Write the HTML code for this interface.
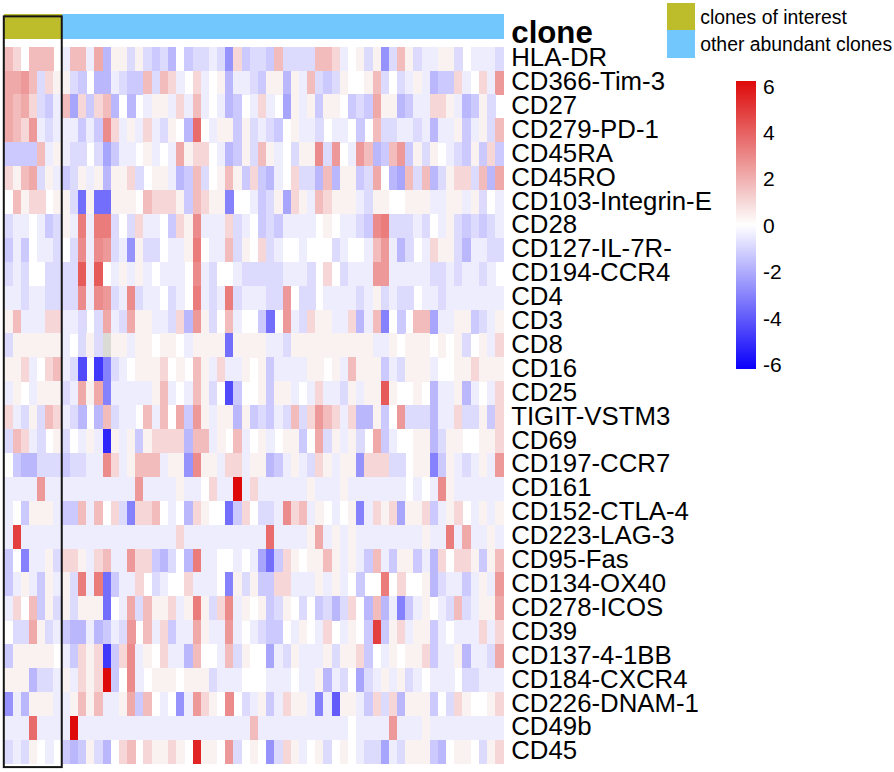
<!DOCTYPE html>
<html><head><meta charset="utf-8"><style>
html,body{margin:0;padding:0;background:#fff;width:894px;height:772px;overflow:hidden;}
body{position:relative;font-family:"Liberation Sans",sans-serif;color:#000;}
.rl{position:absolute;left:511.2px;font-size:25.8px;line-height:30px;white-space:nowrap;}
.tk{position:absolute;left:763px;font-size:21px;line-height:24px;white-space:nowrap;}
.cl{position:absolute;left:511.3px;top:14.6px;font-size:31.2px;font-weight:bold;line-height:36px;}
.lg{position:absolute;left:700.2px;font-size:19.4px;line-height:24px;white-space:nowrap;}
</style></head><body>
<svg width="894" height="772" viewBox="0 0 894 772" style="position:absolute;left:0;top:0" shape-rendering="crispEdges">
<defs><linearGradient id="cb" x1="0" y1="0" x2="0" y2="1"><stop offset="0.0000" stop-color="#de0a0a"/><stop offset="0.0833" stop-color="#e23333"/><stop offset="0.1667" stop-color="#e65c5c"/><stop offset="0.2500" stop-color="#eb8484"/><stop offset="0.3333" stop-color="#f0adad"/><stop offset="0.4167" stop-color="#f6d6d6"/><stop offset="0.5000" stop-color="#ffffff"/><stop offset="0.5833" stop-color="#d6d4fe"/><stop offset="0.6667" stop-color="#adaafd"/><stop offset="0.7500" stop-color="#8480fc"/><stop offset="0.8333" stop-color="#5c55fb"/><stop offset="0.9167" stop-color="#332afb"/><stop offset="1.0000" stop-color="#0a00fa"/></linearGradient></defs>
<rect x="4.40" y="14.4" width="8.48" height="24.4" fill="#bdbd2c"/><rect x="12.58" y="14.4" width="8.48" height="24.4" fill="#bdbd2c"/><rect x="20.76" y="14.4" width="8.48" height="24.4" fill="#bdbd2c"/><rect x="28.94" y="14.4" width="8.48" height="24.4" fill="#bdbd2c"/><rect x="37.12" y="14.4" width="8.48" height="24.4" fill="#bdbd2c"/><rect x="45.30" y="14.4" width="8.48" height="24.4" fill="#bdbd2c"/><rect x="53.48" y="14.4" width="8.48" height="24.4" fill="#bdbd2c"/><rect x="61.66" y="14.4" width="8.48" height="24.4" fill="#72c7fc"/><rect x="69.84" y="14.4" width="8.48" height="24.4" fill="#72c7fc"/><rect x="78.02" y="14.4" width="8.48" height="24.4" fill="#72c7fc"/><rect x="86.20" y="14.4" width="8.48" height="24.4" fill="#72c7fc"/><rect x="94.38" y="14.4" width="8.48" height="24.4" fill="#72c7fc"/><rect x="102.56" y="14.4" width="8.48" height="24.4" fill="#72c7fc"/><rect x="110.74" y="14.4" width="8.48" height="24.4" fill="#72c7fc"/><rect x="118.92" y="14.4" width="8.48" height="24.4" fill="#72c7fc"/><rect x="127.10" y="14.4" width="8.48" height="24.4" fill="#72c7fc"/><rect x="135.28" y="14.4" width="8.48" height="24.4" fill="#72c7fc"/><rect x="143.46" y="14.4" width="8.48" height="24.4" fill="#72c7fc"/><rect x="151.64" y="14.4" width="8.48" height="24.4" fill="#72c7fc"/><rect x="159.82" y="14.4" width="8.48" height="24.4" fill="#72c7fc"/><rect x="168.00" y="14.4" width="8.48" height="24.4" fill="#72c7fc"/><rect x="176.18" y="14.4" width="8.48" height="24.4" fill="#72c7fc"/><rect x="184.36" y="14.4" width="8.48" height="24.4" fill="#72c7fc"/><rect x="192.54" y="14.4" width="8.48" height="24.4" fill="#72c7fc"/><rect x="200.72" y="14.4" width="8.48" height="24.4" fill="#72c7fc"/><rect x="208.90" y="14.4" width="8.48" height="24.4" fill="#72c7fc"/><rect x="217.08" y="14.4" width="8.48" height="24.4" fill="#72c7fc"/><rect x="225.26" y="14.4" width="8.48" height="24.4" fill="#72c7fc"/><rect x="233.44" y="14.4" width="8.48" height="24.4" fill="#72c7fc"/><rect x="241.62" y="14.4" width="8.48" height="24.4" fill="#72c7fc"/><rect x="249.80" y="14.4" width="8.48" height="24.4" fill="#72c7fc"/><rect x="257.98" y="14.4" width="8.48" height="24.4" fill="#72c7fc"/><rect x="266.16" y="14.4" width="8.48" height="24.4" fill="#72c7fc"/><rect x="274.34" y="14.4" width="8.48" height="24.4" fill="#72c7fc"/><rect x="282.52" y="14.4" width="8.48" height="24.4" fill="#72c7fc"/><rect x="290.70" y="14.4" width="8.48" height="24.4" fill="#72c7fc"/><rect x="298.88" y="14.4" width="8.48" height="24.4" fill="#72c7fc"/><rect x="307.06" y="14.4" width="8.48" height="24.4" fill="#72c7fc"/><rect x="315.24" y="14.4" width="8.48" height="24.4" fill="#72c7fc"/><rect x="323.42" y="14.4" width="8.48" height="24.4" fill="#72c7fc"/><rect x="331.60" y="14.4" width="8.48" height="24.4" fill="#72c7fc"/><rect x="339.78" y="14.4" width="8.48" height="24.4" fill="#72c7fc"/><rect x="347.96" y="14.4" width="8.48" height="24.4" fill="#72c7fc"/><rect x="356.14" y="14.4" width="8.48" height="24.4" fill="#72c7fc"/><rect x="364.32" y="14.4" width="8.48" height="24.4" fill="#72c7fc"/><rect x="372.50" y="14.4" width="8.48" height="24.4" fill="#72c7fc"/><rect x="380.68" y="14.4" width="8.48" height="24.4" fill="#72c7fc"/><rect x="388.86" y="14.4" width="8.48" height="24.4" fill="#72c7fc"/><rect x="397.04" y="14.4" width="8.48" height="24.4" fill="#72c7fc"/><rect x="405.22" y="14.4" width="8.48" height="24.4" fill="#72c7fc"/><rect x="413.40" y="14.4" width="8.48" height="24.4" fill="#72c7fc"/><rect x="421.58" y="14.4" width="8.48" height="24.4" fill="#72c7fc"/><rect x="429.76" y="14.4" width="8.48" height="24.4" fill="#72c7fc"/><rect x="437.94" y="14.4" width="8.48" height="24.4" fill="#72c7fc"/><rect x="446.12" y="14.4" width="8.48" height="24.4" fill="#72c7fc"/><rect x="454.30" y="14.4" width="8.48" height="24.4" fill="#72c7fc"/><rect x="462.48" y="14.4" width="8.48" height="24.4" fill="#72c7fc"/><rect x="470.66" y="14.4" width="8.48" height="24.4" fill="#72c7fc"/><rect x="478.84" y="14.4" width="8.48" height="24.4" fill="#72c7fc"/><rect x="487.02" y="14.4" width="8.48" height="24.4" fill="#72c7fc"/><rect x="495.20" y="14.4" width="8.48" height="24.4" fill="#72c7fc"/><rect x="4.40" y="46.60" width="8.48" height="24.20" fill="#f2bcbc"/><rect x="12.58" y="46.60" width="8.48" height="24.20" fill="#f6d6d6"/><rect x="28.94" y="46.60" width="8.48" height="24.20" fill="#f2bcbc"/><rect x="37.12" y="46.60" width="8.48" height="24.20" fill="#f2bcbc"/><rect x="45.30" y="46.60" width="8.48" height="24.20" fill="#f2bcbc"/><rect x="61.66" y="46.60" width="8.48" height="24.20" fill="#eeedfe"/><rect x="69.84" y="46.60" width="8.48" height="24.20" fill="#f2bcbc"/><rect x="78.02" y="46.60" width="8.48" height="24.20" fill="#f2bcbc"/><rect x="86.20" y="46.60" width="8.48" height="24.20" fill="#eeedfe"/><rect x="94.38" y="46.60" width="8.48" height="24.20" fill="#efa9a9"/><rect x="102.56" y="46.60" width="8.48" height="24.20" fill="#bab7fd"/><rect x="110.74" y="46.60" width="8.48" height="24.20" fill="#faf1f1"/><rect x="118.92" y="46.60" width="8.48" height="24.20" fill="#faf1f1"/><rect x="127.10" y="46.60" width="8.48" height="24.20" fill="#dcdbfe"/><rect x="135.28" y="46.60" width="8.48" height="24.20" fill="#faf1f1"/><rect x="143.46" y="46.60" width="8.48" height="24.20" fill="#dcdbfe"/><rect x="151.64" y="46.60" width="8.48" height="24.20" fill="#cbc9fd"/><rect x="159.82" y="46.60" width="8.48" height="24.20" fill="#dcdbfe"/><rect x="168.00" y="46.60" width="8.48" height="24.20" fill="#bab7fd"/><rect x="184.36" y="46.60" width="8.48" height="24.20" fill="#cbc9fd"/><rect x="192.54" y="46.60" width="8.48" height="24.20" fill="#dcdbfe"/><rect x="200.72" y="46.60" width="8.48" height="24.20" fill="#dcdbfe"/><rect x="208.90" y="46.60" width="8.48" height="24.20" fill="#eeedfe"/><rect x="217.08" y="46.60" width="8.48" height="24.20" fill="#dcdbfe"/><rect x="225.26" y="46.60" width="8.48" height="24.20" fill="#9793fc"/><rect x="233.44" y="46.60" width="8.48" height="24.20" fill="#f6d6d6"/><rect x="241.62" y="46.60" width="8.48" height="24.20" fill="#cbc9fd"/><rect x="249.80" y="46.60" width="8.48" height="24.20" fill="#dcdbfe"/><rect x="257.98" y="46.60" width="8.48" height="24.20" fill="#dcdbfe"/><rect x="266.16" y="46.60" width="8.48" height="24.20" fill="#cbc9fd"/><rect x="274.34" y="46.60" width="8.48" height="24.20" fill="#f2bcbc"/><rect x="282.52" y="46.60" width="8.48" height="24.20" fill="#dcdbfe"/><rect x="290.70" y="46.60" width="8.48" height="24.20" fill="#dcdbfe"/><rect x="298.88" y="46.60" width="8.48" height="24.20" fill="#dcdbfe"/><rect x="307.06" y="46.60" width="8.48" height="24.20" fill="#dcdbfe"/><rect x="315.24" y="46.60" width="8.48" height="24.20" fill="#f2bcbc"/><rect x="323.42" y="46.60" width="8.48" height="24.20" fill="#f2bcbc"/><rect x="331.60" y="46.60" width="8.48" height="24.20" fill="#f6d6d6"/><rect x="339.78" y="46.60" width="8.48" height="24.20" fill="#eeedfe"/><rect x="356.14" y="46.60" width="8.48" height="24.20" fill="#faf1f1"/><rect x="364.32" y="46.60" width="8.48" height="24.20" fill="#dcdbfe"/><rect x="372.50" y="46.60" width="8.48" height="24.20" fill="#faf1f1"/><rect x="380.68" y="46.60" width="8.48" height="24.20" fill="#9793fc"/><rect x="388.86" y="46.60" width="8.48" height="24.20" fill="#dcdbfe"/><rect x="397.04" y="46.60" width="8.48" height="24.20" fill="#f2bcbc"/><rect x="405.22" y="46.60" width="8.48" height="24.20" fill="#faf1f1"/><rect x="413.40" y="46.60" width="8.48" height="24.20" fill="#dcdbfe"/><rect x="421.58" y="46.60" width="8.48" height="24.20" fill="#eeedfe"/><rect x="429.76" y="46.60" width="8.48" height="24.20" fill="#eeedfe"/><rect x="437.94" y="46.60" width="8.48" height="24.20" fill="#faf1f1"/><rect x="446.12" y="46.60" width="8.48" height="24.20" fill="#faf1f1"/><rect x="454.30" y="46.60" width="8.48" height="24.20" fill="#dcdbfe"/><rect x="470.66" y="46.60" width="8.48" height="24.20" fill="#eeedfe"/><rect x="478.84" y="46.60" width="8.48" height="24.20" fill="#eeedfe"/><rect x="487.02" y="46.60" width="8.48" height="24.20" fill="#eeedfe"/><rect x="495.20" y="46.60" width="8.48" height="24.20" fill="#dcdbfe"/><rect x="4.40" y="70.50" width="8.48" height="24.20" fill="#efa9a9"/><rect x="12.58" y="70.50" width="8.48" height="24.20" fill="#efa9a9"/><rect x="20.76" y="70.50" width="8.48" height="24.20" fill="#ed9999"/><rect x="28.94" y="70.50" width="8.48" height="24.20" fill="#f2bcbc"/><rect x="37.12" y="70.50" width="8.48" height="24.20" fill="#dcdbfe"/><rect x="45.30" y="70.50" width="8.48" height="24.20" fill="#f6d6d6"/><rect x="53.48" y="70.50" width="8.48" height="24.20" fill="#faf1f1"/><rect x="61.66" y="70.50" width="8.48" height="24.20" fill="#faf1f1"/><rect x="69.84" y="70.50" width="8.48" height="24.20" fill="#dcdbfe"/><rect x="78.02" y="70.50" width="8.48" height="24.20" fill="#cbc9fd"/><rect x="94.38" y="70.50" width="8.48" height="24.20" fill="#bab7fd"/><rect x="102.56" y="70.50" width="8.48" height="24.20" fill="#bab7fd"/><rect x="110.74" y="70.50" width="8.48" height="24.20" fill="#eeedfe"/><rect x="118.92" y="70.50" width="8.48" height="24.20" fill="#dcdbfe"/><rect x="127.10" y="70.50" width="8.48" height="24.20" fill="#cbc9fd"/><rect x="135.28" y="70.50" width="8.48" height="24.20" fill="#cbc9fd"/><rect x="143.46" y="70.50" width="8.48" height="24.20" fill="#f2bcbc"/><rect x="151.64" y="70.50" width="8.48" height="24.20" fill="#dcdbfe"/><rect x="159.82" y="70.50" width="8.48" height="24.20" fill="#f2bcbc"/><rect x="168.00" y="70.50" width="8.48" height="24.20" fill="#f6d6d6"/><rect x="176.18" y="70.50" width="8.48" height="24.20" fill="#eeedfe"/><rect x="192.54" y="70.50" width="8.48" height="24.20" fill="#f6d6d6"/><rect x="200.72" y="70.50" width="8.48" height="24.20" fill="#eeedfe"/><rect x="217.08" y="70.50" width="8.48" height="24.20" fill="#faf1f1"/><rect x="225.26" y="70.50" width="8.48" height="24.20" fill="#bab7fd"/><rect x="233.44" y="70.50" width="8.48" height="24.20" fill="#eeedfe"/><rect x="241.62" y="70.50" width="8.48" height="24.20" fill="#eeedfe"/><rect x="249.80" y="70.50" width="8.48" height="24.20" fill="#dcdbfe"/><rect x="257.98" y="70.50" width="8.48" height="24.20" fill="#cbc9fd"/><rect x="266.16" y="70.50" width="8.48" height="24.20" fill="#faf1f1"/><rect x="274.34" y="70.50" width="8.48" height="24.20" fill="#faf1f1"/><rect x="282.52" y="70.50" width="8.48" height="24.20" fill="#bab7fd"/><rect x="290.70" y="70.50" width="8.48" height="24.20" fill="#faf1f1"/><rect x="298.88" y="70.50" width="8.48" height="24.20" fill="#eeedfe"/><rect x="307.06" y="70.50" width="8.48" height="24.20" fill="#f2bcbc"/><rect x="315.24" y="70.50" width="8.48" height="24.20" fill="#dcdbfe"/><rect x="323.42" y="70.50" width="8.48" height="24.20" fill="#cbc9fd"/><rect x="331.60" y="70.50" width="8.48" height="24.20" fill="#dcdbfe"/><rect x="339.78" y="70.50" width="8.48" height="24.20" fill="#faf1f1"/><rect x="364.32" y="70.50" width="8.48" height="24.20" fill="#faf1f1"/><rect x="372.50" y="70.50" width="8.48" height="24.20" fill="#f2bcbc"/><rect x="380.68" y="70.50" width="8.48" height="24.20" fill="#dcdbfe"/><rect x="397.04" y="70.50" width="8.48" height="24.20" fill="#dcdbfe"/><rect x="405.22" y="70.50" width="8.48" height="24.20" fill="#eeedfe"/><rect x="413.40" y="70.50" width="8.48" height="24.20" fill="#faf1f1"/><rect x="421.58" y="70.50" width="8.48" height="24.20" fill="#eeedfe"/><rect x="429.76" y="70.50" width="8.48" height="24.20" fill="#bab7fd"/><rect x="437.94" y="70.50" width="8.48" height="24.20" fill="#cbc9fd"/><rect x="446.12" y="70.50" width="8.48" height="24.20" fill="#cbc9fd"/><rect x="454.30" y="70.50" width="8.48" height="24.20" fill="#f6d6d6"/><rect x="462.48" y="70.50" width="8.48" height="24.20" fill="#eeedfe"/><rect x="478.84" y="70.50" width="8.48" height="24.20" fill="#f6d6d6"/><rect x="487.02" y="70.50" width="8.48" height="24.20" fill="#eeedfe"/><rect x="495.20" y="70.50" width="8.48" height="24.20" fill="#ed9999"/><rect x="4.40" y="94.40" width="8.48" height="24.20" fill="#efa9a9"/><rect x="12.58" y="94.40" width="8.48" height="24.20" fill="#f2bcbc"/><rect x="20.76" y="94.40" width="8.48" height="24.20" fill="#efa9a9"/><rect x="28.94" y="94.40" width="8.48" height="24.20" fill="#f6d6d6"/><rect x="37.12" y="94.40" width="8.48" height="24.20" fill="#dcdbfe"/><rect x="45.30" y="94.40" width="8.48" height="24.20" fill="#cbc9fd"/><rect x="53.48" y="94.40" width="8.48" height="24.20" fill="#eeedfe"/><rect x="61.66" y="94.40" width="8.48" height="24.20" fill="#f2bcbc"/><rect x="69.84" y="94.40" width="8.48" height="24.20" fill="#a8a5fd"/><rect x="78.02" y="94.40" width="8.48" height="24.20" fill="#f6d6d6"/><rect x="86.20" y="94.40" width="8.48" height="24.20" fill="#cbc9fd"/><rect x="94.38" y="94.40" width="8.48" height="24.20" fill="#f6d6d6"/><rect x="102.56" y="94.40" width="8.48" height="24.20" fill="#f2bcbc"/><rect x="110.74" y="94.40" width="8.48" height="24.20" fill="#bab7fd"/><rect x="127.10" y="94.40" width="8.48" height="24.20" fill="#bab7fd"/><rect x="143.46" y="94.40" width="8.48" height="24.20" fill="#eeedfe"/><rect x="151.64" y="94.40" width="8.48" height="24.20" fill="#faf1f1"/><rect x="159.82" y="94.40" width="8.48" height="24.20" fill="#faf1f1"/><rect x="168.00" y="94.40" width="8.48" height="24.20" fill="#eeedfe"/><rect x="176.18" y="94.40" width="8.48" height="24.20" fill="#f6d6d6"/><rect x="184.36" y="94.40" width="8.48" height="24.20" fill="#eeedfe"/><rect x="192.54" y="94.40" width="8.48" height="24.20" fill="#f2bcbc"/><rect x="200.72" y="94.40" width="8.48" height="24.20" fill="#eeedfe"/><rect x="217.08" y="94.40" width="8.48" height="24.20" fill="#eeedfe"/><rect x="225.26" y="94.40" width="8.48" height="24.20" fill="#bab7fd"/><rect x="233.44" y="94.40" width="8.48" height="24.20" fill="#cbc9fd"/><rect x="249.80" y="94.40" width="8.48" height="24.20" fill="#eeedfe"/><rect x="257.98" y="94.40" width="8.48" height="24.20" fill="#f6d6d6"/><rect x="266.16" y="94.40" width="8.48" height="24.20" fill="#eeedfe"/><rect x="282.52" y="94.40" width="8.48" height="24.20" fill="#a8a5fd"/><rect x="290.70" y="94.40" width="8.48" height="24.20" fill="#faf1f1"/><rect x="298.88" y="94.40" width="8.48" height="24.20" fill="#eeedfe"/><rect x="307.06" y="94.40" width="8.48" height="24.20" fill="#faf1f1"/><rect x="315.24" y="94.40" width="8.48" height="24.20" fill="#cbc9fd"/><rect x="323.42" y="94.40" width="8.48" height="24.20" fill="#faf1f1"/><rect x="331.60" y="94.40" width="8.48" height="24.20" fill="#faf1f1"/><rect x="347.96" y="94.40" width="8.48" height="24.20" fill="#cbc9fd"/><rect x="356.14" y="94.40" width="8.48" height="24.20" fill="#dcdbfe"/><rect x="364.32" y="94.40" width="8.48" height="24.20" fill="#cbc9fd"/><rect x="372.50" y="94.40" width="8.48" height="24.20" fill="#efa9a9"/><rect x="380.68" y="94.40" width="8.48" height="24.20" fill="#faf1f1"/><rect x="388.86" y="94.40" width="8.48" height="24.20" fill="#faf1f1"/><rect x="397.04" y="94.40" width="8.48" height="24.20" fill="#bab7fd"/><rect x="405.22" y="94.40" width="8.48" height="24.20" fill="#cbc9fd"/><rect x="413.40" y="94.40" width="8.48" height="24.20" fill="#eeedfe"/><rect x="421.58" y="94.40" width="8.48" height="24.20" fill="#eeedfe"/><rect x="429.76" y="94.40" width="8.48" height="24.20" fill="#f6d6d6"/><rect x="437.94" y="94.40" width="8.48" height="24.20" fill="#f6d6d6"/><rect x="446.12" y="94.40" width="8.48" height="24.20" fill="#faf1f1"/><rect x="454.30" y="94.40" width="8.48" height="24.20" fill="#eeedfe"/><rect x="462.48" y="94.40" width="8.48" height="24.20" fill="#bab7fd"/><rect x="470.66" y="94.40" width="8.48" height="24.20" fill="#cbc9fd"/><rect x="478.84" y="94.40" width="8.48" height="24.20" fill="#faf1f1"/><rect x="487.02" y="94.40" width="8.48" height="24.20" fill="#dcdbfe"/><rect x="4.40" y="118.30" width="8.48" height="24.20" fill="#efa9a9"/><rect x="12.58" y="118.30" width="8.48" height="24.20" fill="#f2bcbc"/><rect x="20.76" y="118.30" width="8.48" height="24.20" fill="#f6d6d6"/><rect x="28.94" y="118.30" width="8.48" height="24.20" fill="#ed9999"/><rect x="37.12" y="118.30" width="8.48" height="24.20" fill="#eeedfe"/><rect x="45.30" y="118.30" width="8.48" height="24.20" fill="#dcdbfe"/><rect x="53.48" y="118.30" width="8.48" height="24.20" fill="#eeedfe"/><rect x="61.66" y="118.30" width="8.48" height="24.20" fill="#eeedfe"/><rect x="69.84" y="118.30" width="8.48" height="24.20" fill="#eeedfe"/><rect x="78.02" y="118.30" width="8.48" height="24.20" fill="#cbc9fd"/><rect x="86.20" y="118.30" width="8.48" height="24.20" fill="#eeedfe"/><rect x="94.38" y="118.30" width="8.48" height="24.20" fill="#cbc9fd"/><rect x="102.56" y="118.30" width="8.48" height="24.20" fill="#eb8b8b"/><rect x="110.74" y="118.30" width="8.48" height="24.20" fill="#f6d6d6"/><rect x="118.92" y="118.30" width="8.48" height="24.20" fill="#eeedfe"/><rect x="127.10" y="118.30" width="8.48" height="24.20" fill="#faf1f1"/><rect x="135.28" y="118.30" width="8.48" height="24.20" fill="#eeedfe"/><rect x="143.46" y="118.30" width="8.48" height="24.20" fill="#f6d6d6"/><rect x="151.64" y="118.30" width="8.48" height="24.20" fill="#eeedfe"/><rect x="159.82" y="118.30" width="8.48" height="24.20" fill="#dcdbfe"/><rect x="168.00" y="118.30" width="8.48" height="24.20" fill="#faf1f1"/><rect x="184.36" y="118.30" width="8.48" height="24.20" fill="#bab7fd"/><rect x="192.54" y="118.30" width="8.48" height="24.20" fill="#e86c6c"/><rect x="208.90" y="118.30" width="8.48" height="24.20" fill="#eeedfe"/><rect x="217.08" y="118.30" width="8.48" height="24.20" fill="#faf1f1"/><rect x="225.26" y="118.30" width="8.48" height="24.20" fill="#faf1f1"/><rect x="233.44" y="118.30" width="8.48" height="24.20" fill="#cbc9fd"/><rect x="241.62" y="118.30" width="8.48" height="24.20" fill="#faf1f1"/><rect x="249.80" y="118.30" width="8.48" height="24.20" fill="#dcdbfe"/><rect x="257.98" y="118.30" width="8.48" height="24.20" fill="#eeedfe"/><rect x="266.16" y="118.30" width="8.48" height="24.20" fill="#dcdbfe"/><rect x="274.34" y="118.30" width="8.48" height="24.20" fill="#cbc9fd"/><rect x="290.70" y="118.30" width="8.48" height="24.20" fill="#faf1f1"/><rect x="298.88" y="118.30" width="8.48" height="24.20" fill="#eeedfe"/><rect x="307.06" y="118.30" width="8.48" height="24.20" fill="#eeedfe"/><rect x="315.24" y="118.30" width="8.48" height="24.20" fill="#dcdbfe"/><rect x="331.60" y="118.30" width="8.48" height="24.20" fill="#eeedfe"/><rect x="339.78" y="118.30" width="8.48" height="24.20" fill="#eeedfe"/><rect x="356.14" y="118.30" width="8.48" height="24.20" fill="#cbc9fd"/><rect x="372.50" y="118.30" width="8.48" height="24.20" fill="#f2bcbc"/><rect x="380.68" y="118.30" width="8.48" height="24.20" fill="#dcdbfe"/><rect x="388.86" y="118.30" width="8.48" height="24.20" fill="#dcdbfe"/><rect x="397.04" y="118.30" width="8.48" height="24.20" fill="#eeedfe"/><rect x="405.22" y="118.30" width="8.48" height="24.20" fill="#eeedfe"/><rect x="413.40" y="118.30" width="8.48" height="24.20" fill="#dcdbfe"/><rect x="421.58" y="118.30" width="8.48" height="24.20" fill="#eeedfe"/><rect x="429.76" y="118.30" width="8.48" height="24.20" fill="#bab7fd"/><rect x="437.94" y="118.30" width="8.48" height="24.20" fill="#eeedfe"/><rect x="446.12" y="118.30" width="8.48" height="24.20" fill="#eeedfe"/><rect x="454.30" y="118.30" width="8.48" height="24.20" fill="#faf1f1"/><rect x="462.48" y="118.30" width="8.48" height="24.20" fill="#cbc9fd"/><rect x="470.66" y="118.30" width="8.48" height="24.20" fill="#eeedfe"/><rect x="478.84" y="118.30" width="8.48" height="24.20" fill="#faf1f1"/><rect x="487.02" y="118.30" width="8.48" height="24.20" fill="#dcdbfe"/><rect x="495.20" y="118.30" width="8.48" height="24.20" fill="#f2bcbc"/><rect x="4.40" y="142.20" width="8.48" height="24.20" fill="#cbc9fd"/><rect x="12.58" y="142.20" width="8.48" height="24.20" fill="#cbc9fd"/><rect x="20.76" y="142.20" width="8.48" height="24.20" fill="#cbc9fd"/><rect x="28.94" y="142.20" width="8.48" height="24.20" fill="#cbc9fd"/><rect x="37.12" y="142.20" width="8.48" height="24.20" fill="#f2bcbc"/><rect x="45.30" y="142.20" width="8.48" height="24.20" fill="#eeedfe"/><rect x="53.48" y="142.20" width="8.48" height="24.20" fill="#faf1f1"/><rect x="61.66" y="142.20" width="8.48" height="24.20" fill="#eeedfe"/><rect x="69.84" y="142.20" width="8.48" height="24.20" fill="#dcdbfe"/><rect x="78.02" y="142.20" width="8.48" height="24.20" fill="#dcdbfe"/><rect x="94.38" y="142.20" width="8.48" height="24.20" fill="#dcdbfe"/><rect x="102.56" y="142.20" width="8.48" height="24.20" fill="#a8a5fd"/><rect x="110.74" y="142.20" width="8.48" height="24.20" fill="#cbc9fd"/><rect x="118.92" y="142.20" width="8.48" height="24.20" fill="#eeedfe"/><rect x="127.10" y="142.20" width="8.48" height="24.20" fill="#eeedfe"/><rect x="143.46" y="142.20" width="8.48" height="24.20" fill="#faf1f1"/><rect x="151.64" y="142.20" width="8.48" height="24.20" fill="#eeedfe"/><rect x="168.00" y="142.20" width="8.48" height="24.20" fill="#eeedfe"/><rect x="176.18" y="142.20" width="8.48" height="24.20" fill="#efa9a9"/><rect x="184.36" y="142.20" width="8.48" height="24.20" fill="#faf1f1"/><rect x="192.54" y="142.20" width="8.48" height="24.20" fill="#f6d6d6"/><rect x="200.72" y="142.20" width="8.48" height="24.20" fill="#f6d6d6"/><rect x="217.08" y="142.20" width="8.48" height="24.20" fill="#eeedfe"/><rect x="225.26" y="142.20" width="8.48" height="24.20" fill="#bab7fd"/><rect x="233.44" y="142.20" width="8.48" height="24.20" fill="#cbc9fd"/><rect x="241.62" y="142.20" width="8.48" height="24.20" fill="#faf1f1"/><rect x="249.80" y="142.20" width="8.48" height="24.20" fill="#dcdbfe"/><rect x="257.98" y="142.20" width="8.48" height="24.20" fill="#f2bcbc"/><rect x="266.16" y="142.20" width="8.48" height="24.20" fill="#faf1f1"/><rect x="274.34" y="142.20" width="8.48" height="24.20" fill="#eeedfe"/><rect x="290.70" y="142.20" width="8.48" height="24.20" fill="#dcdbfe"/><rect x="298.88" y="142.20" width="8.48" height="24.20" fill="#faf1f1"/><rect x="307.06" y="142.20" width="8.48" height="24.20" fill="#faf1f1"/><rect x="315.24" y="142.20" width="8.48" height="24.20" fill="#eb8b8b"/><rect x="323.42" y="142.20" width="8.48" height="24.20" fill="#dcdbfe"/><rect x="331.60" y="142.20" width="8.48" height="24.20" fill="#ed9999"/><rect x="347.96" y="142.20" width="8.48" height="24.20" fill="#eeedfe"/><rect x="356.14" y="142.20" width="8.48" height="24.20" fill="#ed9999"/><rect x="364.32" y="142.20" width="8.48" height="24.20" fill="#f2bcbc"/><rect x="372.50" y="142.20" width="8.48" height="24.20" fill="#bab7fd"/><rect x="380.68" y="142.20" width="8.48" height="24.20" fill="#cbc9fd"/><rect x="388.86" y="142.20" width="8.48" height="24.20" fill="#f2bcbc"/><rect x="397.04" y="142.20" width="8.48" height="24.20" fill="#ed9999"/><rect x="405.22" y="142.20" width="8.48" height="24.20" fill="#cbc9fd"/><rect x="413.40" y="142.20" width="8.48" height="24.20" fill="#faf1f1"/><rect x="421.58" y="142.20" width="8.48" height="24.20" fill="#dcdbfe"/><rect x="429.76" y="142.20" width="8.48" height="24.20" fill="#faf1f1"/><rect x="446.12" y="142.20" width="8.48" height="24.20" fill="#eeedfe"/><rect x="454.30" y="142.20" width="8.48" height="24.20" fill="#dcdbfe"/><rect x="462.48" y="142.20" width="8.48" height="24.20" fill="#cbc9fd"/><rect x="470.66" y="142.20" width="8.48" height="24.20" fill="#faf1f1"/><rect x="478.84" y="142.20" width="8.48" height="24.20" fill="#cbc9fd"/><rect x="487.02" y="142.20" width="8.48" height="24.20" fill="#f6d6d6"/><rect x="495.20" y="142.20" width="8.48" height="24.20" fill="#cbc9fd"/><rect x="4.40" y="166.10" width="8.48" height="24.20" fill="#f6d6d6"/><rect x="12.58" y="166.10" width="8.48" height="24.20" fill="#faf1f1"/><rect x="20.76" y="166.10" width="8.48" height="24.20" fill="#f2bcbc"/><rect x="28.94" y="166.10" width="8.48" height="24.20" fill="#efa9a9"/><rect x="37.12" y="166.10" width="8.48" height="24.20" fill="#dcdbfe"/><rect x="45.30" y="166.10" width="8.48" height="24.20" fill="#faf1f1"/><rect x="53.48" y="166.10" width="8.48" height="24.20" fill="#eeedfe"/><rect x="61.66" y="166.10" width="8.48" height="24.20" fill="#cbc9fd"/><rect x="69.84" y="166.10" width="8.48" height="24.20" fill="#dcdbfe"/><rect x="78.02" y="166.10" width="8.48" height="24.20" fill="#faf1f1"/><rect x="86.20" y="166.10" width="8.48" height="24.20" fill="#eeedfe"/><rect x="94.38" y="166.10" width="8.48" height="24.20" fill="#faf1f1"/><rect x="102.56" y="166.10" width="8.48" height="24.20" fill="#bab7fd"/><rect x="110.74" y="166.10" width="8.48" height="24.20" fill="#faf1f1"/><rect x="118.92" y="166.10" width="8.48" height="24.20" fill="#faf1f1"/><rect x="127.10" y="166.10" width="8.48" height="24.20" fill="#f6d6d6"/><rect x="135.28" y="166.10" width="8.48" height="24.20" fill="#dcdbfe"/><rect x="151.64" y="166.10" width="8.48" height="24.20" fill="#faf1f1"/><rect x="159.82" y="166.10" width="8.48" height="24.20" fill="#faf1f1"/><rect x="168.00" y="166.10" width="8.48" height="24.20" fill="#eeedfe"/><rect x="176.18" y="166.10" width="8.48" height="24.20" fill="#bab7fd"/><rect x="184.36" y="166.10" width="8.48" height="24.20" fill="#cbc9fd"/><rect x="192.54" y="166.10" width="8.48" height="24.20" fill="#f2bcbc"/><rect x="200.72" y="166.10" width="8.48" height="24.20" fill="#dcdbfe"/><rect x="217.08" y="166.10" width="8.48" height="24.20" fill="#faf1f1"/><rect x="225.26" y="166.10" width="8.48" height="24.20" fill="#f2bcbc"/><rect x="233.44" y="166.10" width="8.48" height="24.20" fill="#faf1f1"/><rect x="241.62" y="166.10" width="8.48" height="24.20" fill="#cbc9fd"/><rect x="249.80" y="166.10" width="8.48" height="24.20" fill="#f6d6d6"/><rect x="257.98" y="166.10" width="8.48" height="24.20" fill="#cbc9fd"/><rect x="266.16" y="166.10" width="8.48" height="24.20" fill="#bab7fd"/><rect x="274.34" y="166.10" width="8.48" height="24.20" fill="#eeedfe"/><rect x="290.70" y="166.10" width="8.48" height="24.20" fill="#f6d6d6"/><rect x="298.88" y="166.10" width="8.48" height="24.20" fill="#dcdbfe"/><rect x="307.06" y="166.10" width="8.48" height="24.20" fill="#dcdbfe"/><rect x="315.24" y="166.10" width="8.48" height="24.20" fill="#bab7fd"/><rect x="323.42" y="166.10" width="8.48" height="24.20" fill="#f2bcbc"/><rect x="331.60" y="166.10" width="8.48" height="24.20" fill="#bab7fd"/><rect x="339.78" y="166.10" width="8.48" height="24.20" fill="#faf1f1"/><rect x="347.96" y="166.10" width="8.48" height="24.20" fill="#faf1f1"/><rect x="356.14" y="166.10" width="8.48" height="24.20" fill="#cbc9fd"/><rect x="364.32" y="166.10" width="8.48" height="24.20" fill="#dcdbfe"/><rect x="372.50" y="166.10" width="8.48" height="24.20" fill="#efa9a9"/><rect x="388.86" y="166.10" width="8.48" height="24.20" fill="#bab7fd"/><rect x="397.04" y="166.10" width="8.48" height="24.20" fill="#a8a5fd"/><rect x="405.22" y="166.10" width="8.48" height="24.20" fill="#f2bcbc"/><rect x="413.40" y="166.10" width="8.48" height="24.20" fill="#dcdbfe"/><rect x="421.58" y="166.10" width="8.48" height="24.20" fill="#f2bcbc"/><rect x="429.76" y="166.10" width="8.48" height="24.20" fill="#bab7fd"/><rect x="437.94" y="166.10" width="8.48" height="24.20" fill="#dcdbfe"/><rect x="446.12" y="166.10" width="8.48" height="24.20" fill="#faf1f1"/><rect x="454.30" y="166.10" width="8.48" height="24.20" fill="#f6d6d6"/><rect x="462.48" y="166.10" width="8.48" height="24.20" fill="#f6d6d6"/><rect x="470.66" y="166.10" width="8.48" height="24.20" fill="#dcdbfe"/><rect x="478.84" y="166.10" width="8.48" height="24.20" fill="#f2bcbc"/><rect x="487.02" y="166.10" width="8.48" height="24.20" fill="#bab7fd"/><rect x="495.20" y="166.10" width="8.48" height="24.20" fill="#efa9a9"/><rect x="12.58" y="190.00" width="8.48" height="24.20" fill="#f2bcbc"/><rect x="20.76" y="190.00" width="8.48" height="24.20" fill="#faf1f1"/><rect x="28.94" y="190.00" width="8.48" height="24.20" fill="#f6d6d6"/><rect x="37.12" y="190.00" width="8.48" height="24.20" fill="#f6d6d6"/><rect x="53.48" y="190.00" width="8.48" height="24.20" fill="#faf1f1"/><rect x="61.66" y="190.00" width="8.48" height="24.20" fill="#faf1f1"/><rect x="69.84" y="190.00" width="8.48" height="24.20" fill="#dcdbfe"/><rect x="78.02" y="190.00" width="8.48" height="24.20" fill="#746efc"/><rect x="86.20" y="190.00" width="8.48" height="24.20" fill="#faf1f1"/><rect x="94.38" y="190.00" width="8.48" height="24.20" fill="#746efc"/><rect x="102.56" y="190.00" width="8.48" height="24.20" fill="#746efc"/><rect x="110.74" y="190.00" width="8.48" height="24.20" fill="#faf1f1"/><rect x="118.92" y="190.00" width="8.48" height="24.20" fill="#faf1f1"/><rect x="127.10" y="190.00" width="8.48" height="24.20" fill="#faf1f1"/><rect x="143.46" y="190.00" width="8.48" height="24.20" fill="#f2bcbc"/><rect x="151.64" y="190.00" width="8.48" height="24.20" fill="#f6d6d6"/><rect x="159.82" y="190.00" width="8.48" height="24.20" fill="#f6d6d6"/><rect x="168.00" y="190.00" width="8.48" height="24.20" fill="#f6d6d6"/><rect x="176.18" y="190.00" width="8.48" height="24.20" fill="#faf1f1"/><rect x="184.36" y="190.00" width="8.48" height="24.20" fill="#cbc9fd"/><rect x="192.54" y="190.00" width="8.48" height="24.20" fill="#f2bcbc"/><rect x="200.72" y="190.00" width="8.48" height="24.20" fill="#f6d6d6"/><rect x="208.90" y="190.00" width="8.48" height="24.20" fill="#faf1f1"/><rect x="217.08" y="190.00" width="8.48" height="24.20" fill="#faf1f1"/><rect x="225.26" y="190.00" width="8.48" height="24.20" fill="#8681fc"/><rect x="249.80" y="190.00" width="8.48" height="24.20" fill="#eeedfe"/><rect x="257.98" y="190.00" width="8.48" height="24.20" fill="#cbc9fd"/><rect x="266.16" y="190.00" width="8.48" height="24.20" fill="#dcdbfe"/><rect x="274.34" y="190.00" width="8.48" height="24.20" fill="#faf1f1"/><rect x="282.52" y="190.00" width="8.48" height="24.20" fill="#a8a5fd"/><rect x="290.70" y="190.00" width="8.48" height="24.20" fill="#f6d6d6"/><rect x="298.88" y="190.00" width="8.48" height="24.20" fill="#faf1f1"/><rect x="307.06" y="190.00" width="8.48" height="24.20" fill="#eeedfe"/><rect x="315.24" y="190.00" width="8.48" height="24.20" fill="#f2bcbc"/><rect x="323.42" y="190.00" width="8.48" height="24.20" fill="#f6d6d6"/><rect x="331.60" y="190.00" width="8.48" height="24.20" fill="#faf1f1"/><rect x="339.78" y="190.00" width="8.48" height="24.20" fill="#faf1f1"/><rect x="347.96" y="190.00" width="8.48" height="24.20" fill="#faf1f1"/><rect x="356.14" y="190.00" width="8.48" height="24.20" fill="#eeedfe"/><rect x="364.32" y="190.00" width="8.48" height="24.20" fill="#dcdbfe"/><rect x="372.50" y="190.00" width="8.48" height="24.20" fill="#faf1f1"/><rect x="380.68" y="190.00" width="8.48" height="24.20" fill="#faf1f1"/><rect x="405.22" y="190.00" width="8.48" height="24.20" fill="#faf1f1"/><rect x="413.40" y="190.00" width="8.48" height="24.20" fill="#faf1f1"/><rect x="421.58" y="190.00" width="8.48" height="24.20" fill="#faf1f1"/><rect x="429.76" y="190.00" width="8.48" height="24.20" fill="#eeedfe"/><rect x="437.94" y="190.00" width="8.48" height="24.20" fill="#eeedfe"/><rect x="446.12" y="190.00" width="8.48" height="24.20" fill="#faf1f1"/><rect x="454.30" y="190.00" width="8.48" height="24.20" fill="#faf1f1"/><rect x="462.48" y="190.00" width="8.48" height="24.20" fill="#eeedfe"/><rect x="470.66" y="190.00" width="8.48" height="24.20" fill="#faf1f1"/><rect x="478.84" y="190.00" width="8.48" height="24.20" fill="#dcdbfe"/><rect x="495.20" y="190.00" width="8.48" height="24.20" fill="#eeedfe"/><rect x="4.40" y="213.90" width="8.48" height="24.20" fill="#dcdbfe"/><rect x="12.58" y="213.90" width="8.48" height="24.20" fill="#eeedfe"/><rect x="20.76" y="213.90" width="8.48" height="24.20" fill="#eeedfe"/><rect x="37.12" y="213.90" width="8.48" height="24.20" fill="#eeedfe"/><rect x="45.30" y="213.90" width="8.48" height="24.20" fill="#cbc9fd"/><rect x="53.48" y="213.90" width="8.48" height="24.20" fill="#dcdbfe"/><rect x="61.66" y="213.90" width="8.48" height="24.20" fill="#faf1f1"/><rect x="69.84" y="213.90" width="8.48" height="24.20" fill="#eeedfe"/><rect x="78.02" y="213.90" width="8.48" height="24.20" fill="#ea7c7c"/><rect x="86.20" y="213.90" width="8.48" height="24.20" fill="#eeedfe"/><rect x="94.38" y="213.90" width="8.48" height="24.20" fill="#ea7c7c"/><rect x="102.56" y="213.90" width="8.48" height="24.20" fill="#ea7c7c"/><rect x="110.74" y="213.90" width="8.48" height="24.20" fill="#dcdbfe"/><rect x="127.10" y="213.90" width="8.48" height="24.20" fill="#dcdbfe"/><rect x="135.28" y="213.90" width="8.48" height="24.20" fill="#f6d6d6"/><rect x="143.46" y="213.90" width="8.48" height="24.20" fill="#eeedfe"/><rect x="151.64" y="213.90" width="8.48" height="24.20" fill="#eeedfe"/><rect x="168.00" y="213.90" width="8.48" height="24.20" fill="#cbc9fd"/><rect x="176.18" y="213.90" width="8.48" height="24.20" fill="#f6d6d6"/><rect x="184.36" y="213.90" width="8.48" height="24.20" fill="#faf1f1"/><rect x="192.54" y="213.90" width="8.48" height="24.20" fill="#eb8b8b"/><rect x="200.72" y="213.90" width="8.48" height="24.20" fill="#eeedfe"/><rect x="208.90" y="213.90" width="8.48" height="24.20" fill="#eeedfe"/><rect x="217.08" y="213.90" width="8.48" height="24.20" fill="#eeedfe"/><rect x="225.26" y="213.90" width="8.48" height="24.20" fill="#f6d6d6"/><rect x="233.44" y="213.90" width="8.48" height="24.20" fill="#dcdbfe"/><rect x="241.62" y="213.90" width="8.48" height="24.20" fill="#eeedfe"/><rect x="257.98" y="213.90" width="8.48" height="24.20" fill="#cbc9fd"/><rect x="266.16" y="213.90" width="8.48" height="24.20" fill="#dcdbfe"/><rect x="274.34" y="213.90" width="8.48" height="24.20" fill="#cbc9fd"/><rect x="282.52" y="213.90" width="8.48" height="24.20" fill="#eeedfe"/><rect x="290.70" y="213.90" width="8.48" height="24.20" fill="#eeedfe"/><rect x="298.88" y="213.90" width="8.48" height="24.20" fill="#eeedfe"/><rect x="307.06" y="213.90" width="8.48" height="24.20" fill="#eeedfe"/><rect x="323.42" y="213.90" width="8.48" height="24.20" fill="#faf1f1"/><rect x="339.78" y="213.90" width="8.48" height="24.20" fill="#eeedfe"/><rect x="347.96" y="213.90" width="8.48" height="24.20" fill="#eeedfe"/><rect x="356.14" y="213.90" width="8.48" height="24.20" fill="#dcdbfe"/><rect x="364.32" y="213.90" width="8.48" height="24.20" fill="#cbc9fd"/><rect x="372.50" y="213.90" width="8.48" height="24.20" fill="#eb8b8b"/><rect x="380.68" y="213.90" width="8.48" height="24.20" fill="#ea7c7c"/><rect x="388.86" y="213.90" width="8.48" height="24.20" fill="#dcdbfe"/><rect x="397.04" y="213.90" width="8.48" height="24.20" fill="#dcdbfe"/><rect x="405.22" y="213.90" width="8.48" height="24.20" fill="#dcdbfe"/><rect x="413.40" y="213.90" width="8.48" height="24.20" fill="#eeedfe"/><rect x="421.58" y="213.90" width="8.48" height="24.20" fill="#dcdbfe"/><rect x="437.94" y="213.90" width="8.48" height="24.20" fill="#eeedfe"/><rect x="446.12" y="213.90" width="8.48" height="24.20" fill="#faf1f1"/><rect x="454.30" y="213.90" width="8.48" height="24.20" fill="#dcdbfe"/><rect x="462.48" y="213.90" width="8.48" height="24.20" fill="#cbc9fd"/><rect x="470.66" y="213.90" width="8.48" height="24.20" fill="#dcdbfe"/><rect x="478.84" y="213.90" width="8.48" height="24.20" fill="#cbc9fd"/><rect x="487.02" y="213.90" width="8.48" height="24.20" fill="#dcdbfe"/><rect x="495.20" y="213.90" width="8.48" height="24.20" fill="#eeedfe"/><rect x="4.40" y="237.80" width="8.48" height="24.20" fill="#cbc9fd"/><rect x="12.58" y="237.80" width="8.48" height="24.20" fill="#eeedfe"/><rect x="20.76" y="237.80" width="8.48" height="24.20" fill="#cbc9fd"/><rect x="37.12" y="237.80" width="8.48" height="24.20" fill="#eeedfe"/><rect x="45.30" y="237.80" width="8.48" height="24.20" fill="#eeedfe"/><rect x="53.48" y="237.80" width="8.48" height="24.20" fill="#dcdbfe"/><rect x="69.84" y="237.80" width="8.48" height="24.20" fill="#dcdbfe"/><rect x="78.02" y="237.80" width="8.48" height="24.20" fill="#eb8b8b"/><rect x="86.20" y="237.80" width="8.48" height="24.20" fill="#eeedfe"/><rect x="94.38" y="237.80" width="8.48" height="24.20" fill="#eb8b8b"/><rect x="102.56" y="237.80" width="8.48" height="24.20" fill="#ed9999"/><rect x="110.74" y="237.80" width="8.48" height="24.20" fill="#dcdbfe"/><rect x="118.92" y="237.80" width="8.48" height="24.20" fill="#eeedfe"/><rect x="127.10" y="237.80" width="8.48" height="24.20" fill="#9793fc"/><rect x="135.28" y="237.80" width="8.48" height="24.20" fill="#faf1f1"/><rect x="143.46" y="237.80" width="8.48" height="24.20" fill="#dcdbfe"/><rect x="151.64" y="237.80" width="8.48" height="24.20" fill="#dcdbfe"/><rect x="168.00" y="237.80" width="8.48" height="24.20" fill="#eeedfe"/><rect x="176.18" y="237.80" width="8.48" height="24.20" fill="#eeedfe"/><rect x="184.36" y="237.80" width="8.48" height="24.20" fill="#faf1f1"/><rect x="192.54" y="237.80" width="8.48" height="24.20" fill="#ea7c7c"/><rect x="208.90" y="237.80" width="8.48" height="24.20" fill="#eeedfe"/><rect x="217.08" y="237.80" width="8.48" height="24.20" fill="#eeedfe"/><rect x="225.26" y="237.80" width="8.48" height="24.20" fill="#f2bcbc"/><rect x="233.44" y="237.80" width="8.48" height="24.20" fill="#dcdbfe"/><rect x="241.62" y="237.80" width="8.48" height="24.20" fill="#faf1f1"/><rect x="257.98" y="237.80" width="8.48" height="24.20" fill="#f6d6d6"/><rect x="266.16" y="237.80" width="8.48" height="24.20" fill="#dcdbfe"/><rect x="274.34" y="237.80" width="8.48" height="24.20" fill="#eeedfe"/><rect x="298.88" y="237.80" width="8.48" height="24.20" fill="#eeedfe"/><rect x="331.60" y="237.80" width="8.48" height="24.20" fill="#dcdbfe"/><rect x="339.78" y="237.80" width="8.48" height="24.20" fill="#eeedfe"/><rect x="364.32" y="237.80" width="8.48" height="24.20" fill="#eeedfe"/><rect x="372.50" y="237.80" width="8.48" height="24.20" fill="#f2bcbc"/><rect x="380.68" y="237.80" width="8.48" height="24.20" fill="#ed9999"/><rect x="388.86" y="237.80" width="8.48" height="24.20" fill="#eeedfe"/><rect x="397.04" y="237.80" width="8.48" height="24.20" fill="#bab7fd"/><rect x="405.22" y="237.80" width="8.48" height="24.20" fill="#dcdbfe"/><rect x="421.58" y="237.80" width="8.48" height="24.20" fill="#eeedfe"/><rect x="429.76" y="237.80" width="8.48" height="24.20" fill="#f6d6d6"/><rect x="437.94" y="237.80" width="8.48" height="24.20" fill="#faf1f1"/><rect x="446.12" y="237.80" width="8.48" height="24.20" fill="#faf1f1"/><rect x="454.30" y="237.80" width="8.48" height="24.20" fill="#dcdbfe"/><rect x="462.48" y="237.80" width="8.48" height="24.20" fill="#bab7fd"/><rect x="470.66" y="237.80" width="8.48" height="24.20" fill="#eeedfe"/><rect x="478.84" y="237.80" width="8.48" height="24.20" fill="#eeedfe"/><rect x="487.02" y="237.80" width="8.48" height="24.20" fill="#dcdbfe"/><rect x="495.20" y="237.80" width="8.48" height="24.20" fill="#dcdbfe"/><rect x="4.40" y="261.70" width="8.48" height="24.20" fill="#dcdbfe"/><rect x="12.58" y="261.70" width="8.48" height="24.20" fill="#eeedfe"/><rect x="20.76" y="261.70" width="8.48" height="24.20" fill="#dcdbfe"/><rect x="45.30" y="261.70" width="8.48" height="24.20" fill="#dcdbfe"/><rect x="53.48" y="261.70" width="8.48" height="24.20" fill="#dcdbfe"/><rect x="61.66" y="261.70" width="8.48" height="24.20" fill="#dcdbfe"/><rect x="69.84" y="261.70" width="8.48" height="24.20" fill="#dcdbfe"/><rect x="78.02" y="261.70" width="8.48" height="24.20" fill="#e65a5a"/><rect x="86.20" y="261.70" width="8.48" height="24.20" fill="#eeedfe"/><rect x="94.38" y="261.70" width="8.48" height="24.20" fill="#e65a5a"/><rect x="110.74" y="261.70" width="8.48" height="24.20" fill="#eeedfe"/><rect x="118.92" y="261.70" width="8.48" height="24.20" fill="#faf1f1"/><rect x="127.10" y="261.70" width="8.48" height="24.20" fill="#eeedfe"/><rect x="135.28" y="261.70" width="8.48" height="24.20" fill="#faf1f1"/><rect x="143.46" y="261.70" width="8.48" height="24.20" fill="#eeedfe"/><rect x="159.82" y="261.70" width="8.48" height="24.20" fill="#eeedfe"/><rect x="168.00" y="261.70" width="8.48" height="24.20" fill="#eeedfe"/><rect x="176.18" y="261.70" width="8.48" height="24.20" fill="#eeedfe"/><rect x="192.54" y="261.70" width="8.48" height="24.20" fill="#eb8b8b"/><rect x="200.72" y="261.70" width="8.48" height="24.20" fill="#eeedfe"/><rect x="208.90" y="261.70" width="8.48" height="24.20" fill="#dcdbfe"/><rect x="233.44" y="261.70" width="8.48" height="24.20" fill="#eeedfe"/><rect x="241.62" y="261.70" width="8.48" height="24.20" fill="#dcdbfe"/><rect x="249.80" y="261.70" width="8.48" height="24.20" fill="#dcdbfe"/><rect x="257.98" y="261.70" width="8.48" height="24.20" fill="#dcdbfe"/><rect x="266.16" y="261.70" width="8.48" height="24.20" fill="#dcdbfe"/><rect x="274.34" y="261.70" width="8.48" height="24.20" fill="#dcdbfe"/><rect x="282.52" y="261.70" width="8.48" height="24.20" fill="#eeedfe"/><rect x="290.70" y="261.70" width="8.48" height="24.20" fill="#eeedfe"/><rect x="298.88" y="261.70" width="8.48" height="24.20" fill="#eeedfe"/><rect x="307.06" y="261.70" width="8.48" height="24.20" fill="#dcdbfe"/><rect x="323.42" y="261.70" width="8.48" height="24.20" fill="#f6d6d6"/><rect x="339.78" y="261.70" width="8.48" height="24.20" fill="#dcdbfe"/><rect x="347.96" y="261.70" width="8.48" height="24.20" fill="#eeedfe"/><rect x="356.14" y="261.70" width="8.48" height="24.20" fill="#eeedfe"/><rect x="364.32" y="261.70" width="8.48" height="24.20" fill="#eeedfe"/><rect x="372.50" y="261.70" width="8.48" height="24.20" fill="#ed9999"/><rect x="380.68" y="261.70" width="8.48" height="24.20" fill="#ed9999"/><rect x="388.86" y="261.70" width="8.48" height="24.20" fill="#eeedfe"/><rect x="397.04" y="261.70" width="8.48" height="24.20" fill="#eeedfe"/><rect x="405.22" y="261.70" width="8.48" height="24.20" fill="#eeedfe"/><rect x="413.40" y="261.70" width="8.48" height="24.20" fill="#eeedfe"/><rect x="421.58" y="261.70" width="8.48" height="24.20" fill="#eeedfe"/><rect x="429.76" y="261.70" width="8.48" height="24.20" fill="#dcdbfe"/><rect x="437.94" y="261.70" width="8.48" height="24.20" fill="#dcdbfe"/><rect x="446.12" y="261.70" width="8.48" height="24.20" fill="#eeedfe"/><rect x="454.30" y="261.70" width="8.48" height="24.20" fill="#dcdbfe"/><rect x="462.48" y="261.70" width="8.48" height="24.20" fill="#eeedfe"/><rect x="470.66" y="261.70" width="8.48" height="24.20" fill="#eeedfe"/><rect x="478.84" y="261.70" width="8.48" height="24.20" fill="#dcdbfe"/><rect x="487.02" y="261.70" width="8.48" height="24.20" fill="#eeedfe"/><rect x="4.40" y="285.60" width="8.48" height="24.20" fill="#eeedfe"/><rect x="12.58" y="285.60" width="8.48" height="24.20" fill="#eeedfe"/><rect x="20.76" y="285.60" width="8.48" height="24.20" fill="#dcdbfe"/><rect x="28.94" y="285.60" width="8.48" height="24.20" fill="#eeedfe"/><rect x="37.12" y="285.60" width="8.48" height="24.20" fill="#eeedfe"/><rect x="45.30" y="285.60" width="8.48" height="24.20" fill="#dcdbfe"/><rect x="53.48" y="285.60" width="8.48" height="24.20" fill="#dcdbfe"/><rect x="61.66" y="285.60" width="8.48" height="24.20" fill="#dcdbfe"/><rect x="69.84" y="285.60" width="8.48" height="24.20" fill="#dcdbfe"/><rect x="78.02" y="285.60" width="8.48" height="24.20" fill="#eb8b8b"/><rect x="86.20" y="285.60" width="8.48" height="24.20" fill="#eeedfe"/><rect x="94.38" y="285.60" width="8.48" height="24.20" fill="#eb8b8b"/><rect x="102.56" y="285.60" width="8.48" height="24.20" fill="#ed9999"/><rect x="110.74" y="285.60" width="8.48" height="24.20" fill="#dcdbfe"/><rect x="118.92" y="285.60" width="8.48" height="24.20" fill="#eeedfe"/><rect x="127.10" y="285.60" width="8.48" height="24.20" fill="#eb8b8b"/><rect x="135.28" y="285.60" width="8.48" height="24.20" fill="#dcdbfe"/><rect x="143.46" y="285.60" width="8.48" height="24.20" fill="#eeedfe"/><rect x="151.64" y="285.60" width="8.48" height="24.20" fill="#eeedfe"/><rect x="168.00" y="285.60" width="8.48" height="24.20" fill="#dcdbfe"/><rect x="176.18" y="285.60" width="8.48" height="24.20" fill="#eeedfe"/><rect x="192.54" y="285.60" width="8.48" height="24.20" fill="#ea7c7c"/><rect x="200.72" y="285.60" width="8.48" height="24.20" fill="#eeedfe"/><rect x="208.90" y="285.60" width="8.48" height="24.20" fill="#dcdbfe"/><rect x="217.08" y="285.60" width="8.48" height="24.20" fill="#eeedfe"/><rect x="225.26" y="285.60" width="8.48" height="24.20" fill="#ea7c7c"/><rect x="233.44" y="285.60" width="8.48" height="24.20" fill="#dcdbfe"/><rect x="241.62" y="285.60" width="8.48" height="24.20" fill="#eeedfe"/><rect x="249.80" y="285.60" width="8.48" height="24.20" fill="#eeedfe"/><rect x="257.98" y="285.60" width="8.48" height="24.20" fill="#eeedfe"/><rect x="266.16" y="285.60" width="8.48" height="24.20" fill="#dcdbfe"/><rect x="274.34" y="285.60" width="8.48" height="24.20" fill="#dcdbfe"/><rect x="282.52" y="285.60" width="8.48" height="24.20" fill="#ed9999"/><rect x="298.88" y="285.60" width="8.48" height="24.20" fill="#dcdbfe"/><rect x="307.06" y="285.60" width="8.48" height="24.20" fill="#dcdbfe"/><rect x="323.42" y="285.60" width="8.48" height="24.20" fill="#eeedfe"/><rect x="331.60" y="285.60" width="8.48" height="24.20" fill="#eeedfe"/><rect x="339.78" y="285.60" width="8.48" height="24.20" fill="#eeedfe"/><rect x="347.96" y="285.60" width="8.48" height="24.20" fill="#eeedfe"/><rect x="356.14" y="285.60" width="8.48" height="24.20" fill="#dcdbfe"/><rect x="364.32" y="285.60" width="8.48" height="24.20" fill="#eeedfe"/><rect x="372.50" y="285.60" width="8.48" height="24.20" fill="#faf1f1"/><rect x="380.68" y="285.60" width="8.48" height="24.20" fill="#dcdbfe"/><rect x="388.86" y="285.60" width="8.48" height="24.20" fill="#eeedfe"/><rect x="397.04" y="285.60" width="8.48" height="24.20" fill="#dcdbfe"/><rect x="405.22" y="285.60" width="8.48" height="24.20" fill="#dcdbfe"/><rect x="421.58" y="285.60" width="8.48" height="24.20" fill="#eeedfe"/><rect x="429.76" y="285.60" width="8.48" height="24.20" fill="#eeedfe"/><rect x="437.94" y="285.60" width="8.48" height="24.20" fill="#dcdbfe"/><rect x="446.12" y="285.60" width="8.48" height="24.20" fill="#eeedfe"/><rect x="454.30" y="285.60" width="8.48" height="24.20" fill="#eeedfe"/><rect x="462.48" y="285.60" width="8.48" height="24.20" fill="#eeedfe"/><rect x="470.66" y="285.60" width="8.48" height="24.20" fill="#eeedfe"/><rect x="478.84" y="285.60" width="8.48" height="24.20" fill="#eeedfe"/><rect x="487.02" y="285.60" width="8.48" height="24.20" fill="#eeedfe"/><rect x="495.20" y="285.60" width="8.48" height="24.20" fill="#eeedfe"/><rect x="4.40" y="309.50" width="8.48" height="24.20" fill="#faf1f1"/><rect x="12.58" y="309.50" width="8.48" height="24.20" fill="#f2bcbc"/><rect x="20.76" y="309.50" width="8.48" height="24.20" fill="#eeedfe"/><rect x="28.94" y="309.50" width="8.48" height="24.20" fill="#eeedfe"/><rect x="37.12" y="309.50" width="8.48" height="24.20" fill="#eeedfe"/><rect x="45.30" y="309.50" width="8.48" height="24.20" fill="#f6d6d6"/><rect x="53.48" y="309.50" width="8.48" height="24.20" fill="#f6d6d6"/><rect x="61.66" y="309.50" width="8.48" height="24.20" fill="#eeedfe"/><rect x="69.84" y="309.50" width="8.48" height="24.20" fill="#eeedfe"/><rect x="78.02" y="309.50" width="8.48" height="24.20" fill="#dcdbfe"/><rect x="94.38" y="309.50" width="8.48" height="24.20" fill="#dcdbfe"/><rect x="102.56" y="309.50" width="8.48" height="24.20" fill="#efa9a9"/><rect x="110.74" y="309.50" width="8.48" height="24.20" fill="#eeedfe"/><rect x="118.92" y="309.50" width="8.48" height="24.20" fill="#dcdbfe"/><rect x="127.10" y="309.50" width="8.48" height="24.20" fill="#efa9a9"/><rect x="135.28" y="309.50" width="8.48" height="24.20" fill="#faf1f1"/><rect x="143.46" y="309.50" width="8.48" height="24.20" fill="#faf1f1"/><rect x="151.64" y="309.50" width="8.48" height="24.20" fill="#eeedfe"/><rect x="159.82" y="309.50" width="8.48" height="24.20" fill="#eeedfe"/><rect x="168.00" y="309.50" width="8.48" height="24.20" fill="#dcdbfe"/><rect x="176.18" y="309.50" width="8.48" height="24.20" fill="#f6d6d6"/><rect x="184.36" y="309.50" width="8.48" height="24.20" fill="#bab7fd"/><rect x="192.54" y="309.50" width="8.48" height="24.20" fill="#ed9999"/><rect x="200.72" y="309.50" width="8.48" height="24.20" fill="#faf1f1"/><rect x="208.90" y="309.50" width="8.48" height="24.20" fill="#dcdbfe"/><rect x="225.26" y="309.50" width="8.48" height="24.20" fill="#f2bcbc"/><rect x="233.44" y="309.50" width="8.48" height="24.20" fill="#eeedfe"/><rect x="257.98" y="309.50" width="8.48" height="24.20" fill="#cbc9fd"/><rect x="266.16" y="309.50" width="8.48" height="24.20" fill="#746efc"/><rect x="282.52" y="309.50" width="8.48" height="24.20" fill="#ed9999"/><rect x="290.70" y="309.50" width="8.48" height="24.20" fill="#eeedfe"/><rect x="298.88" y="309.50" width="8.48" height="24.20" fill="#dcdbfe"/><rect x="307.06" y="309.50" width="8.48" height="24.20" fill="#f6d6d6"/><rect x="315.24" y="309.50" width="8.48" height="24.20" fill="#faf1f1"/><rect x="323.42" y="309.50" width="8.48" height="24.20" fill="#faf1f1"/><rect x="331.60" y="309.50" width="8.48" height="24.20" fill="#eeedfe"/><rect x="339.78" y="309.50" width="8.48" height="24.20" fill="#eeedfe"/><rect x="347.96" y="309.50" width="8.48" height="24.20" fill="#f6d6d6"/><rect x="356.14" y="309.50" width="8.48" height="24.20" fill="#bab7fd"/><rect x="364.32" y="309.50" width="8.48" height="24.20" fill="#eeedfe"/><rect x="372.50" y="309.50" width="8.48" height="24.20" fill="#f2bcbc"/><rect x="380.68" y="309.50" width="8.48" height="24.20" fill="#8681fc"/><rect x="397.04" y="309.50" width="8.48" height="24.20" fill="#cbc9fd"/><rect x="413.40" y="309.50" width="8.48" height="24.20" fill="#f2bcbc"/><rect x="421.58" y="309.50" width="8.48" height="24.20" fill="#f2bcbc"/><rect x="429.76" y="309.50" width="8.48" height="24.20" fill="#a8a5fd"/><rect x="437.94" y="309.50" width="8.48" height="24.20" fill="#eeedfe"/><rect x="446.12" y="309.50" width="8.48" height="24.20" fill="#eeedfe"/><rect x="454.30" y="309.50" width="8.48" height="24.20" fill="#faf1f1"/><rect x="462.48" y="309.50" width="8.48" height="24.20" fill="#faf1f1"/><rect x="470.66" y="309.50" width="8.48" height="24.20" fill="#cbc9fd"/><rect x="478.84" y="309.50" width="8.48" height="24.20" fill="#dcdbfe"/><rect x="487.02" y="309.50" width="8.48" height="24.20" fill="#eeedfe"/><rect x="495.20" y="309.50" width="8.48" height="24.20" fill="#faf1f1"/><rect x="4.40" y="333.40" width="8.48" height="24.20" fill="#dcdbfe"/><rect x="12.58" y="333.40" width="8.48" height="24.20" fill="#faf1f1"/><rect x="20.76" y="333.40" width="8.48" height="24.20" fill="#faf1f1"/><rect x="28.94" y="333.40" width="8.48" height="24.20" fill="#faf1f1"/><rect x="37.12" y="333.40" width="8.48" height="24.20" fill="#faf1f1"/><rect x="45.30" y="333.40" width="8.48" height="24.20" fill="#faf1f1"/><rect x="53.48" y="333.40" width="8.48" height="24.20" fill="#faf1f1"/><rect x="61.66" y="333.40" width="8.48" height="24.20" fill="#eeedfe"/><rect x="78.02" y="333.40" width="8.48" height="24.20" fill="#dcdbfe"/><rect x="86.20" y="333.40" width="8.48" height="24.20" fill="#faf1f1"/><rect x="94.38" y="333.40" width="8.48" height="24.20" fill="#dcdbfe"/><rect x="102.56" y="333.40" width="8.48" height="24.20" fill="#d9dbd4"/><rect x="110.74" y="333.40" width="8.48" height="24.20" fill="#faf1f1"/><rect x="118.92" y="333.40" width="8.48" height="24.20" fill="#faf1f1"/><rect x="127.10" y="333.40" width="8.48" height="24.20" fill="#eeedfe"/><rect x="135.28" y="333.40" width="8.48" height="24.20" fill="#faf1f1"/><rect x="143.46" y="333.40" width="8.48" height="24.20" fill="#faf1f1"/><rect x="159.82" y="333.40" width="8.48" height="24.20" fill="#faf1f1"/><rect x="168.00" y="333.40" width="8.48" height="24.20" fill="#faf1f1"/><rect x="184.36" y="333.40" width="8.48" height="24.20" fill="#eeedfe"/><rect x="192.54" y="333.40" width="8.48" height="24.20" fill="#faf1f1"/><rect x="200.72" y="333.40" width="8.48" height="24.20" fill="#faf1f1"/><rect x="208.90" y="333.40" width="8.48" height="24.20" fill="#faf1f1"/><rect x="217.08" y="333.40" width="8.48" height="24.20" fill="#faf1f1"/><rect x="225.26" y="333.40" width="8.48" height="24.20" fill="#746efc"/><rect x="233.44" y="333.40" width="8.48" height="24.20" fill="#faf1f1"/><rect x="241.62" y="333.40" width="8.48" height="24.20" fill="#faf1f1"/><rect x="249.80" y="333.40" width="8.48" height="24.20" fill="#faf1f1"/><rect x="257.98" y="333.40" width="8.48" height="24.20" fill="#faf1f1"/><rect x="266.16" y="333.40" width="8.48" height="24.20" fill="#eeedfe"/><rect x="274.34" y="333.40" width="8.48" height="24.20" fill="#eeedfe"/><rect x="282.52" y="333.40" width="8.48" height="24.20" fill="#dcdbfe"/><rect x="290.70" y="333.40" width="8.48" height="24.20" fill="#faf1f1"/><rect x="298.88" y="333.40" width="8.48" height="24.20" fill="#faf1f1"/><rect x="307.06" y="333.40" width="8.48" height="24.20" fill="#faf1f1"/><rect x="315.24" y="333.40" width="8.48" height="24.20" fill="#faf1f1"/><rect x="323.42" y="333.40" width="8.48" height="24.20" fill="#faf1f1"/><rect x="331.60" y="333.40" width="8.48" height="24.20" fill="#faf1f1"/><rect x="339.78" y="333.40" width="8.48" height="24.20" fill="#faf1f1"/><rect x="347.96" y="333.40" width="8.48" height="24.20" fill="#faf1f1"/><rect x="356.14" y="333.40" width="8.48" height="24.20" fill="#faf1f1"/><rect x="364.32" y="333.40" width="8.48" height="24.20" fill="#faf1f1"/><rect x="372.50" y="333.40" width="8.48" height="24.20" fill="#eeedfe"/><rect x="380.68" y="333.40" width="8.48" height="24.20" fill="#eeedfe"/><rect x="388.86" y="333.40" width="8.48" height="24.20" fill="#faf1f1"/><rect x="405.22" y="333.40" width="8.48" height="24.20" fill="#faf1f1"/><rect x="413.40" y="333.40" width="8.48" height="24.20" fill="#faf1f1"/><rect x="421.58" y="333.40" width="8.48" height="24.20" fill="#faf1f1"/><rect x="437.94" y="333.40" width="8.48" height="24.20" fill="#faf1f1"/><rect x="454.30" y="333.40" width="8.48" height="24.20" fill="#faf1f1"/><rect x="462.48" y="333.40" width="8.48" height="24.20" fill="#dcdbfe"/><rect x="478.84" y="333.40" width="8.48" height="24.20" fill="#faf1f1"/><rect x="487.02" y="333.40" width="8.48" height="24.20" fill="#eeedfe"/><rect x="495.20" y="333.40" width="8.48" height="24.20" fill="#f6d6d6"/><rect x="4.40" y="357.30" width="8.48" height="24.20" fill="#faf1f1"/><rect x="12.58" y="357.30" width="8.48" height="24.20" fill="#faf1f1"/><rect x="20.76" y="357.30" width="8.48" height="24.20" fill="#f6d6d6"/><rect x="28.94" y="357.30" width="8.48" height="24.20" fill="#eeedfe"/><rect x="45.30" y="357.30" width="8.48" height="24.20" fill="#f6d6d6"/><rect x="53.48" y="357.30" width="8.48" height="24.20" fill="#f2bcbc"/><rect x="61.66" y="357.30" width="8.48" height="24.20" fill="#eeedfe"/><rect x="69.84" y="357.30" width="8.48" height="24.20" fill="#dcdbfe"/><rect x="78.02" y="357.30" width="8.48" height="24.20" fill="#514afb"/><rect x="94.38" y="357.30" width="8.48" height="24.20" fill="#4038fb"/><rect x="102.56" y="357.30" width="8.48" height="24.20" fill="#8681fc"/><rect x="110.74" y="357.30" width="8.48" height="24.20" fill="#dcdbfe"/><rect x="118.92" y="357.30" width="8.48" height="24.20" fill="#eeedfe"/><rect x="135.28" y="357.30" width="8.48" height="24.20" fill="#faf1f1"/><rect x="143.46" y="357.30" width="8.48" height="24.20" fill="#faf1f1"/><rect x="151.64" y="357.30" width="8.48" height="24.20" fill="#faf1f1"/><rect x="159.82" y="357.30" width="8.48" height="24.20" fill="#f6d6d6"/><rect x="176.18" y="357.30" width="8.48" height="24.20" fill="#faf1f1"/><rect x="192.54" y="357.30" width="8.48" height="24.20" fill="#f2bcbc"/><rect x="200.72" y="357.30" width="8.48" height="24.20" fill="#faf1f1"/><rect x="208.90" y="357.30" width="8.48" height="24.20" fill="#eeedfe"/><rect x="217.08" y="357.30" width="8.48" height="24.20" fill="#f6d6d6"/><rect x="225.26" y="357.30" width="8.48" height="24.20" fill="#eeedfe"/><rect x="233.44" y="357.30" width="8.48" height="24.20" fill="#eeedfe"/><rect x="241.62" y="357.30" width="8.48" height="24.20" fill="#faf1f1"/><rect x="257.98" y="357.30" width="8.48" height="24.20" fill="#faf1f1"/><rect x="266.16" y="357.30" width="8.48" height="24.20" fill="#cbc9fd"/><rect x="274.34" y="357.30" width="8.48" height="24.20" fill="#eeedfe"/><rect x="282.52" y="357.30" width="8.48" height="24.20" fill="#eeedfe"/><rect x="290.70" y="357.30" width="8.48" height="24.20" fill="#eeedfe"/><rect x="298.88" y="357.30" width="8.48" height="24.20" fill="#eeedfe"/><rect x="307.06" y="357.30" width="8.48" height="24.20" fill="#faf1f1"/><rect x="315.24" y="357.30" width="8.48" height="24.20" fill="#faf1f1"/><rect x="331.60" y="357.30" width="8.48" height="24.20" fill="#faf1f1"/><rect x="339.78" y="357.30" width="8.48" height="24.20" fill="#eeedfe"/><rect x="347.96" y="357.30" width="8.48" height="24.20" fill="#f2bcbc"/><rect x="356.14" y="357.30" width="8.48" height="24.20" fill="#faf1f1"/><rect x="364.32" y="357.30" width="8.48" height="24.20" fill="#faf1f1"/><rect x="372.50" y="357.30" width="8.48" height="24.20" fill="#faf1f1"/><rect x="380.68" y="357.30" width="8.48" height="24.20" fill="#cbc9fd"/><rect x="388.86" y="357.30" width="8.48" height="24.20" fill="#eeedfe"/><rect x="397.04" y="357.30" width="8.48" height="24.20" fill="#dcdbfe"/><rect x="405.22" y="357.30" width="8.48" height="24.20" fill="#faf1f1"/><rect x="413.40" y="357.30" width="8.48" height="24.20" fill="#faf1f1"/><rect x="421.58" y="357.30" width="8.48" height="24.20" fill="#faf1f1"/><rect x="429.76" y="357.30" width="8.48" height="24.20" fill="#eeedfe"/><rect x="454.30" y="357.30" width="8.48" height="24.20" fill="#faf1f1"/><rect x="462.48" y="357.30" width="8.48" height="24.20" fill="#faf1f1"/><rect x="470.66" y="357.30" width="8.48" height="24.20" fill="#f6d6d6"/><rect x="478.84" y="357.30" width="8.48" height="24.20" fill="#faf1f1"/><rect x="487.02" y="357.30" width="8.48" height="24.20" fill="#faf1f1"/><rect x="495.20" y="357.30" width="8.48" height="24.20" fill="#faf1f1"/><rect x="4.40" y="381.20" width="8.48" height="24.20" fill="#eeedfe"/><rect x="12.58" y="381.20" width="8.48" height="24.20" fill="#faf1f1"/><rect x="28.94" y="381.20" width="8.48" height="24.20" fill="#eeedfe"/><rect x="37.12" y="381.20" width="8.48" height="24.20" fill="#faf1f1"/><rect x="45.30" y="381.20" width="8.48" height="24.20" fill="#faf1f1"/><rect x="53.48" y="381.20" width="8.48" height="24.20" fill="#faf1f1"/><rect x="61.66" y="381.20" width="8.48" height="24.20" fill="#dcdbfe"/><rect x="69.84" y="381.20" width="8.48" height="24.20" fill="#eeedfe"/><rect x="78.02" y="381.20" width="8.48" height="24.20" fill="#efa9a9"/><rect x="86.20" y="381.20" width="8.48" height="24.20" fill="#faf1f1"/><rect x="94.38" y="381.20" width="8.48" height="24.20" fill="#efa9a9"/><rect x="102.56" y="381.20" width="8.48" height="24.20" fill="#8681fc"/><rect x="110.74" y="381.20" width="8.48" height="24.20" fill="#eeedfe"/><rect x="118.92" y="381.20" width="8.48" height="24.20" fill="#eeedfe"/><rect x="127.10" y="381.20" width="8.48" height="24.20" fill="#eeedfe"/><rect x="135.28" y="381.20" width="8.48" height="24.20" fill="#eeedfe"/><rect x="143.46" y="381.20" width="8.48" height="24.20" fill="#eeedfe"/><rect x="151.64" y="381.20" width="8.48" height="24.20" fill="#faf1f1"/><rect x="159.82" y="381.20" width="8.48" height="24.20" fill="#f2bcbc"/><rect x="168.00" y="381.20" width="8.48" height="24.20" fill="#eeedfe"/><rect x="184.36" y="381.20" width="8.48" height="24.20" fill="#eeedfe"/><rect x="192.54" y="381.20" width="8.48" height="24.20" fill="#f2bcbc"/><rect x="200.72" y="381.20" width="8.48" height="24.20" fill="#faf1f1"/><rect x="208.90" y="381.20" width="8.48" height="24.20" fill="#dcdbfe"/><rect x="225.26" y="381.20" width="8.48" height="24.20" fill="#514afb"/><rect x="233.44" y="381.20" width="8.48" height="24.20" fill="#cbc9fd"/><rect x="257.98" y="381.20" width="8.48" height="24.20" fill="#faf1f1"/><rect x="266.16" y="381.20" width="8.48" height="24.20" fill="#cbc9fd"/><rect x="274.34" y="381.20" width="8.48" height="24.20" fill="#faf1f1"/><rect x="282.52" y="381.20" width="8.48" height="24.20" fill="#faf1f1"/><rect x="290.70" y="381.20" width="8.48" height="24.20" fill="#eeedfe"/><rect x="307.06" y="381.20" width="8.48" height="24.20" fill="#eeedfe"/><rect x="315.24" y="381.20" width="8.48" height="24.20" fill="#f6d6d6"/><rect x="323.42" y="381.20" width="8.48" height="24.20" fill="#eeedfe"/><rect x="331.60" y="381.20" width="8.48" height="24.20" fill="#eeedfe"/><rect x="339.78" y="381.20" width="8.48" height="24.20" fill="#dcdbfe"/><rect x="347.96" y="381.20" width="8.48" height="24.20" fill="#faf1f1"/><rect x="356.14" y="381.20" width="8.48" height="24.20" fill="#eeedfe"/><rect x="364.32" y="381.20" width="8.48" height="24.20" fill="#faf1f1"/><rect x="372.50" y="381.20" width="8.48" height="24.20" fill="#faf1f1"/><rect x="380.68" y="381.20" width="8.48" height="24.20" fill="#e65a5a"/><rect x="388.86" y="381.20" width="8.48" height="24.20" fill="#faf1f1"/><rect x="413.40" y="381.20" width="8.48" height="24.20" fill="#faf1f1"/><rect x="429.76" y="381.20" width="8.48" height="24.20" fill="#bab7fd"/><rect x="437.94" y="381.20" width="8.48" height="24.20" fill="#eeedfe"/><rect x="446.12" y="381.20" width="8.48" height="24.20" fill="#eeedfe"/><rect x="454.30" y="381.20" width="8.48" height="24.20" fill="#faf1f1"/><rect x="462.48" y="381.20" width="8.48" height="24.20" fill="#bab7fd"/><rect x="470.66" y="381.20" width="8.48" height="24.20" fill="#eeedfe"/><rect x="487.02" y="381.20" width="8.48" height="24.20" fill="#eeedfe"/><rect x="495.20" y="381.20" width="8.48" height="24.20" fill="#f6d6d6"/><rect x="4.40" y="405.10" width="8.48" height="24.20" fill="#f6d6d6"/><rect x="12.58" y="405.10" width="8.48" height="24.20" fill="#eeedfe"/><rect x="20.76" y="405.10" width="8.48" height="24.20" fill="#dcdbfe"/><rect x="28.94" y="405.10" width="8.48" height="24.20" fill="#faf1f1"/><rect x="37.12" y="405.10" width="8.48" height="24.20" fill="#dcdbfe"/><rect x="45.30" y="405.10" width="8.48" height="24.20" fill="#f2bcbc"/><rect x="53.48" y="405.10" width="8.48" height="24.20" fill="#f6d6d6"/><rect x="61.66" y="405.10" width="8.48" height="24.20" fill="#eeedfe"/><rect x="69.84" y="405.10" width="8.48" height="24.20" fill="#dcdbfe"/><rect x="78.02" y="405.10" width="8.48" height="24.20" fill="#bab7fd"/><rect x="94.38" y="405.10" width="8.48" height="24.20" fill="#bab7fd"/><rect x="102.56" y="405.10" width="8.48" height="24.20" fill="#f2bcbc"/><rect x="110.74" y="405.10" width="8.48" height="24.20" fill="#dcdbfe"/><rect x="118.92" y="405.10" width="8.48" height="24.20" fill="#eeedfe"/><rect x="127.10" y="405.10" width="8.48" height="24.20" fill="#eeedfe"/><rect x="143.46" y="405.10" width="8.48" height="24.20" fill="#f2bcbc"/><rect x="151.64" y="405.10" width="8.48" height="24.20" fill="#eeedfe"/><rect x="159.82" y="405.10" width="8.48" height="24.20" fill="#f2bcbc"/><rect x="176.18" y="405.10" width="8.48" height="24.20" fill="#efa9a9"/><rect x="184.36" y="405.10" width="8.48" height="24.20" fill="#cbc9fd"/><rect x="192.54" y="405.10" width="8.48" height="24.20" fill="#ed9999"/><rect x="200.72" y="405.10" width="8.48" height="24.20" fill="#faf1f1"/><rect x="208.90" y="405.10" width="8.48" height="24.20" fill="#eeedfe"/><rect x="217.08" y="405.10" width="8.48" height="24.20" fill="#faf1f1"/><rect x="225.26" y="405.10" width="8.48" height="24.20" fill="#faf1f1"/><rect x="233.44" y="405.10" width="8.48" height="24.20" fill="#bab7fd"/><rect x="241.62" y="405.10" width="8.48" height="24.20" fill="#faf1f1"/><rect x="249.80" y="405.10" width="8.48" height="24.20" fill="#cbc9fd"/><rect x="257.98" y="405.10" width="8.48" height="24.20" fill="#dcdbfe"/><rect x="266.16" y="405.10" width="8.48" height="24.20" fill="#cbc9fd"/><rect x="274.34" y="405.10" width="8.48" height="24.20" fill="#eeedfe"/><rect x="282.52" y="405.10" width="8.48" height="24.20" fill="#dcdbfe"/><rect x="290.70" y="405.10" width="8.48" height="24.20" fill="#f2bcbc"/><rect x="298.88" y="405.10" width="8.48" height="24.20" fill="#dcdbfe"/><rect x="307.06" y="405.10" width="8.48" height="24.20" fill="#f6d6d6"/><rect x="315.24" y="405.10" width="8.48" height="24.20" fill="#ed9999"/><rect x="323.42" y="405.10" width="8.48" height="24.20" fill="#f2bcbc"/><rect x="331.60" y="405.10" width="8.48" height="24.20" fill="#f6d6d6"/><rect x="339.78" y="405.10" width="8.48" height="24.20" fill="#eeedfe"/><rect x="347.96" y="405.10" width="8.48" height="24.20" fill="#f6d6d6"/><rect x="356.14" y="405.10" width="8.48" height="24.20" fill="#bab7fd"/><rect x="364.32" y="405.10" width="8.48" height="24.20" fill="#bab7fd"/><rect x="372.50" y="405.10" width="8.48" height="24.20" fill="#faf1f1"/><rect x="380.68" y="405.10" width="8.48" height="24.20" fill="#cbc9fd"/><rect x="397.04" y="405.10" width="8.48" height="24.20" fill="#ed9999"/><rect x="405.22" y="405.10" width="8.48" height="24.20" fill="#dcdbfe"/><rect x="413.40" y="405.10" width="8.48" height="24.20" fill="#dcdbfe"/><rect x="421.58" y="405.10" width="8.48" height="24.20" fill="#dcdbfe"/><rect x="429.76" y="405.10" width="8.48" height="24.20" fill="#bab7fd"/><rect x="437.94" y="405.10" width="8.48" height="24.20" fill="#eeedfe"/><rect x="446.12" y="405.10" width="8.48" height="24.20" fill="#eeedfe"/><rect x="454.30" y="405.10" width="8.48" height="24.20" fill="#f6d6d6"/><rect x="462.48" y="405.10" width="8.48" height="24.20" fill="#dcdbfe"/><rect x="470.66" y="405.10" width="8.48" height="24.20" fill="#dcdbfe"/><rect x="478.84" y="405.10" width="8.48" height="24.20" fill="#faf1f1"/><rect x="487.02" y="405.10" width="8.48" height="24.20" fill="#cbc9fd"/><rect x="495.20" y="405.10" width="8.48" height="24.20" fill="#f6d6d6"/><rect x="4.40" y="429.00" width="8.48" height="24.20" fill="#dcdbfe"/><rect x="12.58" y="429.00" width="8.48" height="24.20" fill="#f2bcbc"/><rect x="20.76" y="429.00" width="8.48" height="24.20" fill="#f6d6d6"/><rect x="28.94" y="429.00" width="8.48" height="24.20" fill="#eeedfe"/><rect x="37.12" y="429.00" width="8.48" height="24.20" fill="#dcdbfe"/><rect x="53.48" y="429.00" width="8.48" height="24.20" fill="#faf1f1"/><rect x="61.66" y="429.00" width="8.48" height="24.20" fill="#dcdbfe"/><rect x="78.02" y="429.00" width="8.48" height="24.20" fill="#eeedfe"/><rect x="86.20" y="429.00" width="8.48" height="24.20" fill="#faf1f1"/><rect x="94.38" y="429.00" width="8.48" height="24.20" fill="#eeedfe"/><rect x="102.56" y="429.00" width="8.48" height="24.20" fill="#2f26fb"/><rect x="110.74" y="429.00" width="8.48" height="24.20" fill="#faf1f1"/><rect x="118.92" y="429.00" width="8.48" height="24.20" fill="#eeedfe"/><rect x="127.10" y="429.00" width="8.48" height="24.20" fill="#faf1f1"/><rect x="135.28" y="429.00" width="8.48" height="24.20" fill="#cbc9fd"/><rect x="143.46" y="429.00" width="8.48" height="24.20" fill="#faf1f1"/><rect x="151.64" y="429.00" width="8.48" height="24.20" fill="#f6d6d6"/><rect x="159.82" y="429.00" width="8.48" height="24.20" fill="#f6d6d6"/><rect x="168.00" y="429.00" width="8.48" height="24.20" fill="#f6d6d6"/><rect x="176.18" y="429.00" width="8.48" height="24.20" fill="#f6d6d6"/><rect x="184.36" y="429.00" width="8.48" height="24.20" fill="#bab7fd"/><rect x="192.54" y="429.00" width="8.48" height="24.20" fill="#f2bcbc"/><rect x="200.72" y="429.00" width="8.48" height="24.20" fill="#f2bcbc"/><rect x="208.90" y="429.00" width="8.48" height="24.20" fill="#eeedfe"/><rect x="217.08" y="429.00" width="8.48" height="24.20" fill="#faf1f1"/><rect x="233.44" y="429.00" width="8.48" height="24.20" fill="#f2bcbc"/><rect x="241.62" y="429.00" width="8.48" height="24.20" fill="#eeedfe"/><rect x="257.98" y="429.00" width="8.48" height="24.20" fill="#faf1f1"/><rect x="266.16" y="429.00" width="8.48" height="24.20" fill="#eeedfe"/><rect x="282.52" y="429.00" width="8.48" height="24.20" fill="#faf1f1"/><rect x="290.70" y="429.00" width="8.48" height="24.20" fill="#faf1f1"/><rect x="298.88" y="429.00" width="8.48" height="24.20" fill="#cbc9fd"/><rect x="315.24" y="429.00" width="8.48" height="24.20" fill="#efa9a9"/><rect x="323.42" y="429.00" width="8.48" height="24.20" fill="#dcdbfe"/><rect x="331.60" y="429.00" width="8.48" height="24.20" fill="#faf1f1"/><rect x="339.78" y="429.00" width="8.48" height="24.20" fill="#eeedfe"/><rect x="347.96" y="429.00" width="8.48" height="24.20" fill="#faf1f1"/><rect x="356.14" y="429.00" width="8.48" height="24.20" fill="#dcdbfe"/><rect x="372.50" y="429.00" width="8.48" height="24.20" fill="#efa9a9"/><rect x="380.68" y="429.00" width="8.48" height="24.20" fill="#cbc9fd"/><rect x="388.86" y="429.00" width="8.48" height="24.20" fill="#eeedfe"/><rect x="413.40" y="429.00" width="8.48" height="24.20" fill="#faf1f1"/><rect x="421.58" y="429.00" width="8.48" height="24.20" fill="#faf1f1"/><rect x="429.76" y="429.00" width="8.48" height="24.20" fill="#bab7fd"/><rect x="437.94" y="429.00" width="8.48" height="24.20" fill="#dcdbfe"/><rect x="446.12" y="429.00" width="8.48" height="24.20" fill="#faf1f1"/><rect x="454.30" y="429.00" width="8.48" height="24.20" fill="#faf1f1"/><rect x="478.84" y="429.00" width="8.48" height="24.20" fill="#faf1f1"/><rect x="487.02" y="429.00" width="8.48" height="24.20" fill="#faf1f1"/><rect x="495.20" y="429.00" width="8.48" height="24.20" fill="#f6d6d6"/><rect x="12.58" y="452.90" width="8.48" height="24.20" fill="#cbc9fd"/><rect x="20.76" y="452.90" width="8.48" height="24.20" fill="#bab7fd"/><rect x="28.94" y="452.90" width="8.48" height="24.20" fill="#bab7fd"/><rect x="37.12" y="452.90" width="8.48" height="24.20" fill="#dcdbfe"/><rect x="45.30" y="452.90" width="8.48" height="24.20" fill="#dcdbfe"/><rect x="53.48" y="452.90" width="8.48" height="24.20" fill="#dcdbfe"/><rect x="61.66" y="452.90" width="8.48" height="24.20" fill="#cbc9fd"/><rect x="69.84" y="452.90" width="8.48" height="24.20" fill="#dcdbfe"/><rect x="78.02" y="452.90" width="8.48" height="24.20" fill="#dcdbfe"/><rect x="86.20" y="452.90" width="8.48" height="24.20" fill="#eeedfe"/><rect x="94.38" y="452.90" width="8.48" height="24.20" fill="#eeedfe"/><rect x="102.56" y="452.90" width="8.48" height="24.20" fill="#eb8b8b"/><rect x="110.74" y="452.90" width="8.48" height="24.20" fill="#f6d6d6"/><rect x="118.92" y="452.90" width="8.48" height="24.20" fill="#eeedfe"/><rect x="127.10" y="452.90" width="8.48" height="24.20" fill="#faf1f1"/><rect x="135.28" y="452.90" width="8.48" height="24.20" fill="#f2bcbc"/><rect x="143.46" y="452.90" width="8.48" height="24.20" fill="#f2bcbc"/><rect x="151.64" y="452.90" width="8.48" height="24.20" fill="#f2bcbc"/><rect x="159.82" y="452.90" width="8.48" height="24.20" fill="#eeedfe"/><rect x="168.00" y="452.90" width="8.48" height="24.20" fill="#faf1f1"/><rect x="176.18" y="452.90" width="8.48" height="24.20" fill="#faf1f1"/><rect x="184.36" y="452.90" width="8.48" height="24.20" fill="#9793fc"/><rect x="192.54" y="452.90" width="8.48" height="24.20" fill="#eb8b8b"/><rect x="200.72" y="452.90" width="8.48" height="24.20" fill="#faf1f1"/><rect x="208.90" y="452.90" width="8.48" height="24.20" fill="#faf1f1"/><rect x="217.08" y="452.90" width="8.48" height="24.20" fill="#eeedfe"/><rect x="225.26" y="452.90" width="8.48" height="24.20" fill="#f6d6d6"/><rect x="233.44" y="452.90" width="8.48" height="24.20" fill="#f6d6d6"/><rect x="241.62" y="452.90" width="8.48" height="24.20" fill="#eeedfe"/><rect x="249.80" y="452.90" width="8.48" height="24.20" fill="#faf1f1"/><rect x="257.98" y="452.90" width="8.48" height="24.20" fill="#faf1f1"/><rect x="266.16" y="452.90" width="8.48" height="24.20" fill="#bab7fd"/><rect x="274.34" y="452.90" width="8.48" height="24.20" fill="#cbc9fd"/><rect x="282.52" y="452.90" width="8.48" height="24.20" fill="#eeedfe"/><rect x="290.70" y="452.90" width="8.48" height="24.20" fill="#faf1f1"/><rect x="298.88" y="452.90" width="8.48" height="24.20" fill="#eeedfe"/><rect x="307.06" y="452.90" width="8.48" height="24.20" fill="#dcdbfe"/><rect x="315.24" y="452.90" width="8.48" height="24.20" fill="#f6d6d6"/><rect x="323.42" y="452.90" width="8.48" height="24.20" fill="#faf1f1"/><rect x="331.60" y="452.90" width="8.48" height="24.20" fill="#eeedfe"/><rect x="339.78" y="452.90" width="8.48" height="24.20" fill="#faf1f1"/><rect x="347.96" y="452.90" width="8.48" height="24.20" fill="#faf1f1"/><rect x="356.14" y="452.90" width="8.48" height="24.20" fill="#9793fc"/><rect x="364.32" y="452.90" width="8.48" height="24.20" fill="#f6d6d6"/><rect x="372.50" y="452.90" width="8.48" height="24.20" fill="#f6d6d6"/><rect x="380.68" y="452.90" width="8.48" height="24.20" fill="#f6d6d6"/><rect x="388.86" y="452.90" width="8.48" height="24.20" fill="#dcdbfe"/><rect x="397.04" y="452.90" width="8.48" height="24.20" fill="#dcdbfe"/><rect x="413.40" y="452.90" width="8.48" height="24.20" fill="#faf1f1"/><rect x="421.58" y="452.90" width="8.48" height="24.20" fill="#faf1f1"/><rect x="429.76" y="452.90" width="8.48" height="24.20" fill="#8681fc"/><rect x="437.94" y="452.90" width="8.48" height="24.20" fill="#cbc9fd"/><rect x="446.12" y="452.90" width="8.48" height="24.20" fill="#faf1f1"/><rect x="454.30" y="452.90" width="8.48" height="24.20" fill="#eeedfe"/><rect x="462.48" y="452.90" width="8.48" height="24.20" fill="#dcdbfe"/><rect x="470.66" y="452.90" width="8.48" height="24.20" fill="#eeedfe"/><rect x="478.84" y="452.90" width="8.48" height="24.20" fill="#faf1f1"/><rect x="487.02" y="452.90" width="8.48" height="24.20" fill="#eeedfe"/><rect x="495.20" y="452.90" width="8.48" height="24.20" fill="#ed9999"/><rect x="4.40" y="476.80" width="8.48" height="24.20" fill="#eeedfe"/><rect x="12.58" y="476.80" width="8.48" height="24.20" fill="#eeedfe"/><rect x="20.76" y="476.80" width="8.48" height="24.20" fill="#eeedfe"/><rect x="28.94" y="476.80" width="8.48" height="24.20" fill="#eeedfe"/><rect x="37.12" y="476.80" width="8.48" height="24.20" fill="#ed9999"/><rect x="45.30" y="476.80" width="8.48" height="24.20" fill="#eeedfe"/><rect x="53.48" y="476.80" width="8.48" height="24.20" fill="#eeedfe"/><rect x="61.66" y="476.80" width="8.48" height="24.20" fill="#eeedfe"/><rect x="69.84" y="476.80" width="8.48" height="24.20" fill="#eeedfe"/><rect x="78.02" y="476.80" width="8.48" height="24.20" fill="#eeedfe"/><rect x="86.20" y="476.80" width="8.48" height="24.20" fill="#eeedfe"/><rect x="94.38" y="476.80" width="8.48" height="24.20" fill="#eeedfe"/><rect x="102.56" y="476.80" width="8.48" height="24.20" fill="#eeedfe"/><rect x="110.74" y="476.80" width="8.48" height="24.20" fill="#eeedfe"/><rect x="118.92" y="476.80" width="8.48" height="24.20" fill="#eeedfe"/><rect x="127.10" y="476.80" width="8.48" height="24.20" fill="#eeedfe"/><rect x="135.28" y="476.80" width="8.48" height="24.20" fill="#ed9999"/><rect x="143.46" y="476.80" width="8.48" height="24.20" fill="#eeedfe"/><rect x="151.64" y="476.80" width="8.48" height="24.20" fill="#eeedfe"/><rect x="159.82" y="476.80" width="8.48" height="24.20" fill="#eeedfe"/><rect x="168.00" y="476.80" width="8.48" height="24.20" fill="#eeedfe"/><rect x="176.18" y="476.80" width="8.48" height="24.20" fill="#faf1f1"/><rect x="184.36" y="476.80" width="8.48" height="24.20" fill="#eeedfe"/><rect x="192.54" y="476.80" width="8.48" height="24.20" fill="#eeedfe"/><rect x="208.90" y="476.80" width="8.48" height="24.20" fill="#f6d6d6"/><rect x="217.08" y="476.80" width="8.48" height="24.20" fill="#eeedfe"/><rect x="225.26" y="476.80" width="8.48" height="24.20" fill="#eeedfe"/><rect x="233.44" y="476.80" width="8.48" height="24.20" fill="#de0a0a"/><rect x="241.62" y="476.80" width="8.48" height="24.20" fill="#eeedfe"/><rect x="249.80" y="476.80" width="8.48" height="24.20" fill="#f6d6d6"/><rect x="257.98" y="476.80" width="8.48" height="24.20" fill="#eeedfe"/><rect x="266.16" y="476.80" width="8.48" height="24.20" fill="#eeedfe"/><rect x="274.34" y="476.80" width="8.48" height="24.20" fill="#eeedfe"/><rect x="282.52" y="476.80" width="8.48" height="24.20" fill="#eeedfe"/><rect x="290.70" y="476.80" width="8.48" height="24.20" fill="#eeedfe"/><rect x="298.88" y="476.80" width="8.48" height="24.20" fill="#eeedfe"/><rect x="307.06" y="476.80" width="8.48" height="24.20" fill="#faf1f1"/><rect x="315.24" y="476.80" width="8.48" height="24.20" fill="#eeedfe"/><rect x="323.42" y="476.80" width="8.48" height="24.20" fill="#eeedfe"/><rect x="331.60" y="476.80" width="8.48" height="24.20" fill="#eeedfe"/><rect x="339.78" y="476.80" width="8.48" height="24.20" fill="#faf1f1"/><rect x="347.96" y="476.80" width="8.48" height="24.20" fill="#eeedfe"/><rect x="356.14" y="476.80" width="8.48" height="24.20" fill="#eeedfe"/><rect x="364.32" y="476.80" width="8.48" height="24.20" fill="#eeedfe"/><rect x="372.50" y="476.80" width="8.48" height="24.20" fill="#eeedfe"/><rect x="380.68" y="476.80" width="8.48" height="24.20" fill="#eeedfe"/><rect x="388.86" y="476.80" width="8.48" height="24.20" fill="#eeedfe"/><rect x="397.04" y="476.80" width="8.48" height="24.20" fill="#eeedfe"/><rect x="413.40" y="476.80" width="8.48" height="24.20" fill="#eeedfe"/><rect x="429.76" y="476.80" width="8.48" height="24.20" fill="#eeedfe"/><rect x="437.94" y="476.80" width="8.48" height="24.20" fill="#eb8b8b"/><rect x="446.12" y="476.80" width="8.48" height="24.20" fill="#faf1f1"/><rect x="454.30" y="476.80" width="8.48" height="24.20" fill="#eeedfe"/><rect x="462.48" y="476.80" width="8.48" height="24.20" fill="#eeedfe"/><rect x="470.66" y="476.80" width="8.48" height="24.20" fill="#eeedfe"/><rect x="478.84" y="476.80" width="8.48" height="24.20" fill="#eeedfe"/><rect x="487.02" y="476.80" width="8.48" height="24.20" fill="#eeedfe"/><rect x="495.20" y="476.80" width="8.48" height="24.20" fill="#eeedfe"/><rect x="4.40" y="500.70" width="8.48" height="24.20" fill="#eeedfe"/><rect x="20.76" y="500.70" width="8.48" height="24.20" fill="#cbc9fd"/><rect x="28.94" y="500.70" width="8.48" height="24.20" fill="#faf1f1"/><rect x="37.12" y="500.70" width="8.48" height="24.20" fill="#faf1f1"/><rect x="45.30" y="500.70" width="8.48" height="24.20" fill="#faf1f1"/><rect x="53.48" y="500.70" width="8.48" height="24.20" fill="#eeedfe"/><rect x="61.66" y="500.70" width="8.48" height="24.20" fill="#cbc9fd"/><rect x="69.84" y="500.70" width="8.48" height="24.20" fill="#cbc9fd"/><rect x="78.02" y="500.70" width="8.48" height="24.20" fill="#f2bcbc"/><rect x="86.20" y="500.70" width="8.48" height="24.20" fill="#eeedfe"/><rect x="94.38" y="500.70" width="8.48" height="24.20" fill="#f2bcbc"/><rect x="110.74" y="500.70" width="8.48" height="24.20" fill="#f6d6d6"/><rect x="118.92" y="500.70" width="8.48" height="24.20" fill="#dcdbfe"/><rect x="127.10" y="500.70" width="8.48" height="24.20" fill="#8681fc"/><rect x="135.28" y="500.70" width="8.48" height="24.20" fill="#f6d6d6"/><rect x="143.46" y="500.70" width="8.48" height="24.20" fill="#f6d6d6"/><rect x="151.64" y="500.70" width="8.48" height="24.20" fill="#f2bcbc"/><rect x="168.00" y="500.70" width="8.48" height="24.20" fill="#eeedfe"/><rect x="184.36" y="500.70" width="8.48" height="24.20" fill="#bab7fd"/><rect x="192.54" y="500.70" width="8.48" height="24.20" fill="#f6d6d6"/><rect x="200.72" y="500.70" width="8.48" height="24.20" fill="#faf1f1"/><rect x="225.26" y="500.70" width="8.48" height="24.20" fill="#746efc"/><rect x="233.44" y="500.70" width="8.48" height="24.20" fill="#cbc9fd"/><rect x="241.62" y="500.70" width="8.48" height="24.20" fill="#f6d6d6"/><rect x="257.98" y="500.70" width="8.48" height="24.20" fill="#dcdbfe"/><rect x="266.16" y="500.70" width="8.48" height="24.20" fill="#dcdbfe"/><rect x="274.34" y="500.70" width="8.48" height="24.20" fill="#eeedfe"/><rect x="282.52" y="500.70" width="8.48" height="24.20" fill="#eb8b8b"/><rect x="290.70" y="500.70" width="8.48" height="24.20" fill="#f6d6d6"/><rect x="298.88" y="500.70" width="8.48" height="24.20" fill="#f2bcbc"/><rect x="307.06" y="500.70" width="8.48" height="24.20" fill="#eeedfe"/><rect x="315.24" y="500.70" width="8.48" height="24.20" fill="#faf1f1"/><rect x="331.60" y="500.70" width="8.48" height="24.20" fill="#eeedfe"/><rect x="347.96" y="500.70" width="8.48" height="24.20" fill="#faf1f1"/><rect x="356.14" y="500.70" width="8.48" height="24.20" fill="#8681fc"/><rect x="364.32" y="500.70" width="8.48" height="24.20" fill="#eeedfe"/><rect x="372.50" y="500.70" width="8.48" height="24.20" fill="#f6d6d6"/><rect x="380.68" y="500.70" width="8.48" height="24.20" fill="#faf1f1"/><rect x="388.86" y="500.70" width="8.48" height="24.20" fill="#f6d6d6"/><rect x="397.04" y="500.70" width="8.48" height="24.20" fill="#a8a5fd"/><rect x="405.22" y="500.70" width="8.48" height="24.20" fill="#faf1f1"/><rect x="413.40" y="500.70" width="8.48" height="24.20" fill="#faf1f1"/><rect x="421.58" y="500.70" width="8.48" height="24.20" fill="#f6d6d6"/><rect x="429.76" y="500.70" width="8.48" height="24.20" fill="#cbc9fd"/><rect x="437.94" y="500.70" width="8.48" height="24.20" fill="#eeedfe"/><rect x="446.12" y="500.70" width="8.48" height="24.20" fill="#faf1f1"/><rect x="454.30" y="500.70" width="8.48" height="24.20" fill="#f6d6d6"/><rect x="470.66" y="500.70" width="8.48" height="24.20" fill="#eeedfe"/><rect x="478.84" y="500.70" width="8.48" height="24.20" fill="#faf1f1"/><rect x="487.02" y="500.70" width="8.48" height="24.20" fill="#eeedfe"/><rect x="495.20" y="500.70" width="8.48" height="24.20" fill="#faf1f1"/><rect x="4.40" y="524.60" width="8.48" height="24.20" fill="#eeedfe"/><rect x="12.58" y="524.60" width="8.48" height="24.20" fill="#e33f3f"/><rect x="20.76" y="524.60" width="8.48" height="24.20" fill="#eeedfe"/><rect x="28.94" y="524.60" width="8.48" height="24.20" fill="#eeedfe"/><rect x="37.12" y="524.60" width="8.48" height="24.20" fill="#eeedfe"/><rect x="45.30" y="524.60" width="8.48" height="24.20" fill="#eeedfe"/><rect x="53.48" y="524.60" width="8.48" height="24.20" fill="#eeedfe"/><rect x="61.66" y="524.60" width="8.48" height="24.20" fill="#eeedfe"/><rect x="69.84" y="524.60" width="8.48" height="24.20" fill="#eeedfe"/><rect x="78.02" y="524.60" width="8.48" height="24.20" fill="#eeedfe"/><rect x="86.20" y="524.60" width="8.48" height="24.20" fill="#eeedfe"/><rect x="94.38" y="524.60" width="8.48" height="24.20" fill="#eeedfe"/><rect x="102.56" y="524.60" width="8.48" height="24.20" fill="#eeedfe"/><rect x="110.74" y="524.60" width="8.48" height="24.20" fill="#eeedfe"/><rect x="118.92" y="524.60" width="8.48" height="24.20" fill="#eeedfe"/><rect x="127.10" y="524.60" width="8.48" height="24.20" fill="#eeedfe"/><rect x="135.28" y="524.60" width="8.48" height="24.20" fill="#eeedfe"/><rect x="143.46" y="524.60" width="8.48" height="24.20" fill="#eeedfe"/><rect x="151.64" y="524.60" width="8.48" height="24.20" fill="#eeedfe"/><rect x="159.82" y="524.60" width="8.48" height="24.20" fill="#eeedfe"/><rect x="168.00" y="524.60" width="8.48" height="24.20" fill="#eeedfe"/><rect x="176.18" y="524.60" width="8.48" height="24.20" fill="#f6d6d6"/><rect x="184.36" y="524.60" width="8.48" height="24.20" fill="#eeedfe"/><rect x="192.54" y="524.60" width="8.48" height="24.20" fill="#eeedfe"/><rect x="200.72" y="524.60" width="8.48" height="24.20" fill="#eeedfe"/><rect x="208.90" y="524.60" width="8.48" height="24.20" fill="#eeedfe"/><rect x="217.08" y="524.60" width="8.48" height="24.20" fill="#eeedfe"/><rect x="225.26" y="524.60" width="8.48" height="24.20" fill="#eeedfe"/><rect x="233.44" y="524.60" width="8.48" height="24.20" fill="#eeedfe"/><rect x="241.62" y="524.60" width="8.48" height="24.20" fill="#eeedfe"/><rect x="249.80" y="524.60" width="8.48" height="24.20" fill="#eeedfe"/><rect x="257.98" y="524.60" width="8.48" height="24.20" fill="#eeedfe"/><rect x="266.16" y="524.60" width="8.48" height="24.20" fill="#e86c6c"/><rect x="274.34" y="524.60" width="8.48" height="24.20" fill="#eeedfe"/><rect x="282.52" y="524.60" width="8.48" height="24.20" fill="#eeedfe"/><rect x="290.70" y="524.60" width="8.48" height="24.20" fill="#eeedfe"/><rect x="298.88" y="524.60" width="8.48" height="24.20" fill="#eeedfe"/><rect x="307.06" y="524.60" width="8.48" height="24.20" fill="#faf1f1"/><rect x="315.24" y="524.60" width="8.48" height="24.20" fill="#efa9a9"/><rect x="323.42" y="524.60" width="8.48" height="24.20" fill="#eeedfe"/><rect x="331.60" y="524.60" width="8.48" height="24.20" fill="#faf1f1"/><rect x="339.78" y="524.60" width="8.48" height="24.20" fill="#eeedfe"/><rect x="347.96" y="524.60" width="8.48" height="24.20" fill="#faf1f1"/><rect x="356.14" y="524.60" width="8.48" height="24.20" fill="#eeedfe"/><rect x="364.32" y="524.60" width="8.48" height="24.20" fill="#eeedfe"/><rect x="372.50" y="524.60" width="8.48" height="24.20" fill="#eeedfe"/><rect x="380.68" y="524.60" width="8.48" height="24.20" fill="#eeedfe"/><rect x="388.86" y="524.60" width="8.48" height="24.20" fill="#eeedfe"/><rect x="397.04" y="524.60" width="8.48" height="24.20" fill="#eeedfe"/><rect x="405.22" y="524.60" width="8.48" height="24.20" fill="#eeedfe"/><rect x="413.40" y="524.60" width="8.48" height="24.20" fill="#eeedfe"/><rect x="421.58" y="524.60" width="8.48" height="24.20" fill="#faf1f1"/><rect x="429.76" y="524.60" width="8.48" height="24.20" fill="#eeedfe"/><rect x="437.94" y="524.60" width="8.48" height="24.20" fill="#eeedfe"/><rect x="446.12" y="524.60" width="8.48" height="24.20" fill="#ea7c7c"/><rect x="454.30" y="524.60" width="8.48" height="24.20" fill="#eeedfe"/><rect x="462.48" y="524.60" width="8.48" height="24.20" fill="#efa9a9"/><rect x="470.66" y="524.60" width="8.48" height="24.20" fill="#eeedfe"/><rect x="478.84" y="524.60" width="8.48" height="24.20" fill="#eeedfe"/><rect x="487.02" y="524.60" width="8.48" height="24.20" fill="#faf1f1"/><rect x="495.20" y="524.60" width="8.48" height="24.20" fill="#eeedfe"/><rect x="4.40" y="548.50" width="8.48" height="24.20" fill="#cbc9fd"/><rect x="20.76" y="548.50" width="8.48" height="24.20" fill="#8681fc"/><rect x="28.94" y="548.50" width="8.48" height="24.20" fill="#eeedfe"/><rect x="37.12" y="548.50" width="8.48" height="24.20" fill="#eeedfe"/><rect x="45.30" y="548.50" width="8.48" height="24.20" fill="#faf1f1"/><rect x="53.48" y="548.50" width="8.48" height="24.20" fill="#dcdbfe"/><rect x="61.66" y="548.50" width="8.48" height="24.20" fill="#f6d6d6"/><rect x="69.84" y="548.50" width="8.48" height="24.20" fill="#f6d6d6"/><rect x="78.02" y="548.50" width="8.48" height="24.20" fill="#faf1f1"/><rect x="86.20" y="548.50" width="8.48" height="24.20" fill="#eeedfe"/><rect x="94.38" y="548.50" width="8.48" height="24.20" fill="#f6d6d6"/><rect x="102.56" y="548.50" width="8.48" height="24.20" fill="#f2bcbc"/><rect x="110.74" y="548.50" width="8.48" height="24.20" fill="#eeedfe"/><rect x="118.92" y="548.50" width="8.48" height="24.20" fill="#eeedfe"/><rect x="127.10" y="548.50" width="8.48" height="24.20" fill="#ed9999"/><rect x="135.28" y="548.50" width="8.48" height="24.20" fill="#f6d6d6"/><rect x="143.46" y="548.50" width="8.48" height="24.20" fill="#f6d6d6"/><rect x="151.64" y="548.50" width="8.48" height="24.20" fill="#cbc9fd"/><rect x="159.82" y="548.50" width="8.48" height="24.20" fill="#bab7fd"/><rect x="168.00" y="548.50" width="8.48" height="24.20" fill="#dcdbfe"/><rect x="184.36" y="548.50" width="8.48" height="24.20" fill="#bab7fd"/><rect x="192.54" y="548.50" width="8.48" height="24.20" fill="#ea7c7c"/><rect x="200.72" y="548.50" width="8.48" height="24.20" fill="#eeedfe"/><rect x="208.90" y="548.50" width="8.48" height="24.20" fill="#eeedfe"/><rect x="233.44" y="548.50" width="8.48" height="24.20" fill="#eeedfe"/><rect x="249.80" y="548.50" width="8.48" height="24.20" fill="#eeedfe"/><rect x="257.98" y="548.50" width="8.48" height="24.20" fill="#a8a5fd"/><rect x="266.16" y="548.50" width="8.48" height="24.20" fill="#746efc"/><rect x="274.34" y="548.50" width="8.48" height="24.20" fill="#cbc9fd"/><rect x="282.52" y="548.50" width="8.48" height="24.20" fill="#f6d6d6"/><rect x="290.70" y="548.50" width="8.48" height="24.20" fill="#faf1f1"/><rect x="307.06" y="548.50" width="8.48" height="24.20" fill="#faf1f1"/><rect x="315.24" y="548.50" width="8.48" height="24.20" fill="#faf1f1"/><rect x="323.42" y="548.50" width="8.48" height="24.20" fill="#f2bcbc"/><rect x="331.60" y="548.50" width="8.48" height="24.20" fill="#faf1f1"/><rect x="339.78" y="548.50" width="8.48" height="24.20" fill="#eeedfe"/><rect x="347.96" y="548.50" width="8.48" height="24.20" fill="#faf1f1"/><rect x="356.14" y="548.50" width="8.48" height="24.20" fill="#eeedfe"/><rect x="364.32" y="548.50" width="8.48" height="24.20" fill="#cbc9fd"/><rect x="372.50" y="548.50" width="8.48" height="24.20" fill="#f2bcbc"/><rect x="380.68" y="548.50" width="8.48" height="24.20" fill="#eeedfe"/><rect x="388.86" y="548.50" width="8.48" height="24.20" fill="#cbc9fd"/><rect x="397.04" y="548.50" width="8.48" height="24.20" fill="#faf1f1"/><rect x="405.22" y="548.50" width="8.48" height="24.20" fill="#faf1f1"/><rect x="413.40" y="548.50" width="8.48" height="24.20" fill="#cbc9fd"/><rect x="421.58" y="548.50" width="8.48" height="24.20" fill="#eeedfe"/><rect x="429.76" y="548.50" width="8.48" height="24.20" fill="#bab7fd"/><rect x="437.94" y="548.50" width="8.48" height="24.20" fill="#f6d6d6"/><rect x="454.30" y="548.50" width="8.48" height="24.20" fill="#f6d6d6"/><rect x="462.48" y="548.50" width="8.48" height="24.20" fill="#f6d6d6"/><rect x="470.66" y="548.50" width="8.48" height="24.20" fill="#faf1f1"/><rect x="478.84" y="548.50" width="8.48" height="24.20" fill="#cbc9fd"/><rect x="487.02" y="548.50" width="8.48" height="24.20" fill="#faf1f1"/><rect x="495.20" y="548.50" width="8.48" height="24.20" fill="#f2bcbc"/><rect x="4.40" y="572.40" width="8.48" height="24.20" fill="#cbc9fd"/><rect x="12.58" y="572.40" width="8.48" height="24.20" fill="#eeedfe"/><rect x="20.76" y="572.40" width="8.48" height="24.20" fill="#faf1f1"/><rect x="28.94" y="572.40" width="8.48" height="24.20" fill="#eeedfe"/><rect x="37.12" y="572.40" width="8.48" height="24.20" fill="#cbc9fd"/><rect x="45.30" y="572.40" width="8.48" height="24.20" fill="#faf1f1"/><rect x="53.48" y="572.40" width="8.48" height="24.20" fill="#eeedfe"/><rect x="61.66" y="572.40" width="8.48" height="24.20" fill="#faf1f1"/><rect x="69.84" y="572.40" width="8.48" height="24.20" fill="#dcdbfe"/><rect x="78.02" y="572.40" width="8.48" height="24.20" fill="#ea7c7c"/><rect x="86.20" y="572.40" width="8.48" height="24.20" fill="#eeedfe"/><rect x="94.38" y="572.40" width="8.48" height="24.20" fill="#ea7c7c"/><rect x="102.56" y="572.40" width="8.48" height="24.20" fill="#746efc"/><rect x="110.74" y="572.40" width="8.48" height="24.20" fill="#cbc9fd"/><rect x="118.92" y="572.40" width="8.48" height="24.20" fill="#eeedfe"/><rect x="127.10" y="572.40" width="8.48" height="24.20" fill="#eeedfe"/><rect x="135.28" y="572.40" width="8.48" height="24.20" fill="#f6d6d6"/><rect x="151.64" y="572.40" width="8.48" height="24.20" fill="#dcdbfe"/><rect x="159.82" y="572.40" width="8.48" height="24.20" fill="#eeedfe"/><rect x="184.36" y="572.40" width="8.48" height="24.20" fill="#f6d6d6"/><rect x="192.54" y="572.40" width="8.48" height="24.20" fill="#eeedfe"/><rect x="200.72" y="572.40" width="8.48" height="24.20" fill="#eeedfe"/><rect x="208.90" y="572.40" width="8.48" height="24.20" fill="#eeedfe"/><rect x="225.26" y="572.40" width="8.48" height="24.20" fill="#8681fc"/><rect x="233.44" y="572.40" width="8.48" height="24.20" fill="#faf1f1"/><rect x="241.62" y="572.40" width="8.48" height="24.20" fill="#dcdbfe"/><rect x="249.80" y="572.40" width="8.48" height="24.20" fill="#faf1f1"/><rect x="257.98" y="572.40" width="8.48" height="24.20" fill="#cbc9fd"/><rect x="266.16" y="572.40" width="8.48" height="24.20" fill="#cbc9fd"/><rect x="274.34" y="572.40" width="8.48" height="24.20" fill="#f6d6d6"/><rect x="282.52" y="572.40" width="8.48" height="24.20" fill="#f6d6d6"/><rect x="290.70" y="572.40" width="8.48" height="24.20" fill="#eeedfe"/><rect x="298.88" y="572.40" width="8.48" height="24.20" fill="#eeedfe"/><rect x="307.06" y="572.40" width="8.48" height="24.20" fill="#eeedfe"/><rect x="315.24" y="572.40" width="8.48" height="24.20" fill="#faf1f1"/><rect x="323.42" y="572.40" width="8.48" height="24.20" fill="#eeedfe"/><rect x="331.60" y="572.40" width="8.48" height="24.20" fill="#faf1f1"/><rect x="339.78" y="572.40" width="8.48" height="24.20" fill="#eeedfe"/><rect x="356.14" y="572.40" width="8.48" height="24.20" fill="#cbc9fd"/><rect x="380.68" y="572.40" width="8.48" height="24.20" fill="#ea7c7c"/><rect x="397.04" y="572.40" width="8.48" height="24.20" fill="#f6d6d6"/><rect x="421.58" y="572.40" width="8.48" height="24.20" fill="#faf1f1"/><rect x="429.76" y="572.40" width="8.48" height="24.20" fill="#bab7fd"/><rect x="437.94" y="572.40" width="8.48" height="24.20" fill="#dcdbfe"/><rect x="446.12" y="572.40" width="8.48" height="24.20" fill="#eeedfe"/><rect x="454.30" y="572.40" width="8.48" height="24.20" fill="#eeedfe"/><rect x="462.48" y="572.40" width="8.48" height="24.20" fill="#cbc9fd"/><rect x="470.66" y="572.40" width="8.48" height="24.20" fill="#eeedfe"/><rect x="478.84" y="572.40" width="8.48" height="24.20" fill="#faf1f1"/><rect x="487.02" y="572.40" width="8.48" height="24.20" fill="#eeedfe"/><rect x="495.20" y="572.40" width="8.48" height="24.20" fill="#ed9999"/><rect x="4.40" y="596.30" width="8.48" height="24.20" fill="#eeedfe"/><rect x="12.58" y="596.30" width="8.48" height="24.20" fill="#f6d6d6"/><rect x="28.94" y="596.30" width="8.48" height="24.20" fill="#f2bcbc"/><rect x="37.12" y="596.30" width="8.48" height="24.20" fill="#cbc9fd"/><rect x="45.30" y="596.30" width="8.48" height="24.20" fill="#faf1f1"/><rect x="53.48" y="596.30" width="8.48" height="24.20" fill="#dcdbfe"/><rect x="61.66" y="596.30" width="8.48" height="24.20" fill="#faf1f1"/><rect x="69.84" y="596.30" width="8.48" height="24.20" fill="#dcdbfe"/><rect x="78.02" y="596.30" width="8.48" height="24.20" fill="#faf1f1"/><rect x="86.20" y="596.30" width="8.48" height="24.20" fill="#faf1f1"/><rect x="94.38" y="596.30" width="8.48" height="24.20" fill="#faf1f1"/><rect x="102.56" y="596.30" width="8.48" height="24.20" fill="#746efc"/><rect x="118.92" y="596.30" width="8.48" height="24.20" fill="#eeedfe"/><rect x="127.10" y="596.30" width="8.48" height="24.20" fill="#efa9a9"/><rect x="135.28" y="596.30" width="8.48" height="24.20" fill="#dcdbfe"/><rect x="143.46" y="596.30" width="8.48" height="24.20" fill="#f2bcbc"/><rect x="151.64" y="596.30" width="8.48" height="24.20" fill="#faf1f1"/><rect x="159.82" y="596.30" width="8.48" height="24.20" fill="#faf1f1"/><rect x="168.00" y="596.30" width="8.48" height="24.20" fill="#f6d6d6"/><rect x="176.18" y="596.30" width="8.48" height="24.20" fill="#eeedfe"/><rect x="184.36" y="596.30" width="8.48" height="24.20" fill="#faf1f1"/><rect x="192.54" y="596.30" width="8.48" height="24.20" fill="#ea7c7c"/><rect x="200.72" y="596.30" width="8.48" height="24.20" fill="#faf1f1"/><rect x="208.90" y="596.30" width="8.48" height="24.20" fill="#dcdbfe"/><rect x="217.08" y="596.30" width="8.48" height="24.20" fill="#f6d6d6"/><rect x="225.26" y="596.30" width="8.48" height="24.20" fill="#eb8b8b"/><rect x="233.44" y="596.30" width="8.48" height="24.20" fill="#eeedfe"/><rect x="241.62" y="596.30" width="8.48" height="24.20" fill="#faf1f1"/><rect x="257.98" y="596.30" width="8.48" height="24.20" fill="#faf1f1"/><rect x="266.16" y="596.30" width="8.48" height="24.20" fill="#cbc9fd"/><rect x="274.34" y="596.30" width="8.48" height="24.20" fill="#dcdbfe"/><rect x="282.52" y="596.30" width="8.48" height="24.20" fill="#faf1f1"/><rect x="298.88" y="596.30" width="8.48" height="24.20" fill="#dcdbfe"/><rect x="315.24" y="596.30" width="8.48" height="24.20" fill="#cbc9fd"/><rect x="323.42" y="596.30" width="8.48" height="24.20" fill="#dcdbfe"/><rect x="331.60" y="596.30" width="8.48" height="24.20" fill="#bab7fd"/><rect x="339.78" y="596.30" width="8.48" height="24.20" fill="#dcdbfe"/><rect x="347.96" y="596.30" width="8.48" height="24.20" fill="#f6d6d6"/><rect x="364.32" y="596.30" width="8.48" height="24.20" fill="#bab7fd"/><rect x="372.50" y="596.30" width="8.48" height="24.20" fill="#f2bcbc"/><rect x="380.68" y="596.30" width="8.48" height="24.20" fill="#bab7fd"/><rect x="388.86" y="596.30" width="8.48" height="24.20" fill="#eeedfe"/><rect x="397.04" y="596.30" width="8.48" height="24.20" fill="#8681fc"/><rect x="405.22" y="596.30" width="8.48" height="24.20" fill="#cbc9fd"/><rect x="413.40" y="596.30" width="8.48" height="24.20" fill="#eeedfe"/><rect x="421.58" y="596.30" width="8.48" height="24.20" fill="#faf1f1"/><rect x="437.94" y="596.30" width="8.48" height="24.20" fill="#eeedfe"/><rect x="446.12" y="596.30" width="8.48" height="24.20" fill="#dcdbfe"/><rect x="454.30" y="596.30" width="8.48" height="24.20" fill="#f2bcbc"/><rect x="462.48" y="596.30" width="8.48" height="24.20" fill="#dcdbfe"/><rect x="470.66" y="596.30" width="8.48" height="24.20" fill="#eeedfe"/><rect x="478.84" y="596.30" width="8.48" height="24.20" fill="#faf1f1"/><rect x="487.02" y="596.30" width="8.48" height="24.20" fill="#faf1f1"/><rect x="495.20" y="596.30" width="8.48" height="24.20" fill="#efa9a9"/><rect x="12.58" y="620.20" width="8.48" height="24.20" fill="#dcdbfe"/><rect x="20.76" y="620.20" width="8.48" height="24.20" fill="#dcdbfe"/><rect x="28.94" y="620.20" width="8.48" height="24.20" fill="#efa9a9"/><rect x="37.12" y="620.20" width="8.48" height="24.20" fill="#faf1f1"/><rect x="45.30" y="620.20" width="8.48" height="24.20" fill="#dcdbfe"/><rect x="53.48" y="620.20" width="8.48" height="24.20" fill="#eeedfe"/><rect x="61.66" y="620.20" width="8.48" height="24.20" fill="#cbc9fd"/><rect x="69.84" y="620.20" width="8.48" height="24.20" fill="#bab7fd"/><rect x="78.02" y="620.20" width="8.48" height="24.20" fill="#bab7fd"/><rect x="86.20" y="620.20" width="8.48" height="24.20" fill="#eeedfe"/><rect x="94.38" y="620.20" width="8.48" height="24.20" fill="#bab7fd"/><rect x="102.56" y="620.20" width="8.48" height="24.20" fill="#cbc9fd"/><rect x="110.74" y="620.20" width="8.48" height="24.20" fill="#eeedfe"/><rect x="118.92" y="620.20" width="8.48" height="24.20" fill="#dcdbfe"/><rect x="127.10" y="620.20" width="8.48" height="24.20" fill="#ed9999"/><rect x="143.46" y="620.20" width="8.48" height="24.20" fill="#f2bcbc"/><rect x="151.64" y="620.20" width="8.48" height="24.20" fill="#eeedfe"/><rect x="159.82" y="620.20" width="8.48" height="24.20" fill="#f6d6d6"/><rect x="168.00" y="620.20" width="8.48" height="24.20" fill="#cbc9fd"/><rect x="176.18" y="620.20" width="8.48" height="24.20" fill="#eeedfe"/><rect x="184.36" y="620.20" width="8.48" height="24.20" fill="#eeedfe"/><rect x="192.54" y="620.20" width="8.48" height="24.20" fill="#efa9a9"/><rect x="200.72" y="620.20" width="8.48" height="24.20" fill="#faf1f1"/><rect x="208.90" y="620.20" width="8.48" height="24.20" fill="#eeedfe"/><rect x="217.08" y="620.20" width="8.48" height="24.20" fill="#eeedfe"/><rect x="225.26" y="620.20" width="8.48" height="24.20" fill="#ed9999"/><rect x="233.44" y="620.20" width="8.48" height="24.20" fill="#eeedfe"/><rect x="249.80" y="620.20" width="8.48" height="24.20" fill="#eeedfe"/><rect x="257.98" y="620.20" width="8.48" height="24.20" fill="#dcdbfe"/><rect x="266.16" y="620.20" width="8.48" height="24.20" fill="#cbc9fd"/><rect x="274.34" y="620.20" width="8.48" height="24.20" fill="#cbc9fd"/><rect x="290.70" y="620.20" width="8.48" height="24.20" fill="#eeedfe"/><rect x="298.88" y="620.20" width="8.48" height="24.20" fill="#faf1f1"/><rect x="315.24" y="620.20" width="8.48" height="24.20" fill="#eeedfe"/><rect x="323.42" y="620.20" width="8.48" height="24.20" fill="#f6d6d6"/><rect x="339.78" y="620.20" width="8.48" height="24.20" fill="#eeedfe"/><rect x="347.96" y="620.20" width="8.48" height="24.20" fill="#faf1f1"/><rect x="364.32" y="620.20" width="8.48" height="24.20" fill="#cbc9fd"/><rect x="372.50" y="620.20" width="8.48" height="24.20" fill="#e33f3f"/><rect x="380.68" y="620.20" width="8.48" height="24.20" fill="#cbc9fd"/><rect x="388.86" y="620.20" width="8.48" height="24.20" fill="#faf1f1"/><rect x="397.04" y="620.20" width="8.48" height="24.20" fill="#f6d6d6"/><rect x="405.22" y="620.20" width="8.48" height="24.20" fill="#eeedfe"/><rect x="413.40" y="620.20" width="8.48" height="24.20" fill="#faf1f1"/><rect x="421.58" y="620.20" width="8.48" height="24.20" fill="#faf1f1"/><rect x="429.76" y="620.20" width="8.48" height="24.20" fill="#cbc9fd"/><rect x="437.94" y="620.20" width="8.48" height="24.20" fill="#eeedfe"/><rect x="454.30" y="620.20" width="8.48" height="24.20" fill="#eeedfe"/><rect x="462.48" y="620.20" width="8.48" height="24.20" fill="#eeedfe"/><rect x="470.66" y="620.20" width="8.48" height="24.20" fill="#eeedfe"/><rect x="478.84" y="620.20" width="8.48" height="24.20" fill="#f6d6d6"/><rect x="487.02" y="620.20" width="8.48" height="24.20" fill="#eeedfe"/><rect x="495.20" y="620.20" width="8.48" height="24.20" fill="#f6d6d6"/><rect x="4.40" y="644.10" width="8.48" height="24.20" fill="#cbc9fd"/><rect x="12.58" y="644.10" width="8.48" height="24.20" fill="#faf1f1"/><rect x="20.76" y="644.10" width="8.48" height="24.20" fill="#faf1f1"/><rect x="28.94" y="644.10" width="8.48" height="24.20" fill="#faf1f1"/><rect x="37.12" y="644.10" width="8.48" height="24.20" fill="#faf1f1"/><rect x="45.30" y="644.10" width="8.48" height="24.20" fill="#faf1f1"/><rect x="61.66" y="644.10" width="8.48" height="24.20" fill="#eeedfe"/><rect x="69.84" y="644.10" width="8.48" height="24.20" fill="#cbc9fd"/><rect x="78.02" y="644.10" width="8.48" height="24.20" fill="#f6d6d6"/><rect x="86.20" y="644.10" width="8.48" height="24.20" fill="#faf1f1"/><rect x="94.38" y="644.10" width="8.48" height="24.20" fill="#f6d6d6"/><rect x="102.56" y="644.10" width="8.48" height="24.20" fill="#4038fb"/><rect x="110.74" y="644.10" width="8.48" height="24.20" fill="#cbc9fd"/><rect x="118.92" y="644.10" width="8.48" height="24.20" fill="#f6d6d6"/><rect x="127.10" y="644.10" width="8.48" height="24.20" fill="#eb8b8b"/><rect x="135.28" y="644.10" width="8.48" height="24.20" fill="#eeedfe"/><rect x="143.46" y="644.10" width="8.48" height="24.20" fill="#faf1f1"/><rect x="159.82" y="644.10" width="8.48" height="24.20" fill="#f6d6d6"/><rect x="168.00" y="644.10" width="8.48" height="24.20" fill="#eeedfe"/><rect x="176.18" y="644.10" width="8.48" height="24.20" fill="#eeedfe"/><rect x="184.36" y="644.10" width="8.48" height="24.20" fill="#bab7fd"/><rect x="192.54" y="644.10" width="8.48" height="24.20" fill="#f2bcbc"/><rect x="217.08" y="644.10" width="8.48" height="24.20" fill="#eeedfe"/><rect x="225.26" y="644.10" width="8.48" height="24.20" fill="#f2bcbc"/><rect x="233.44" y="644.10" width="8.48" height="24.20" fill="#dcdbfe"/><rect x="241.62" y="644.10" width="8.48" height="24.20" fill="#faf1f1"/><rect x="266.16" y="644.10" width="8.48" height="24.20" fill="#a8a5fd"/><rect x="274.34" y="644.10" width="8.48" height="24.20" fill="#eeedfe"/><rect x="282.52" y="644.10" width="8.48" height="24.20" fill="#dcdbfe"/><rect x="290.70" y="644.10" width="8.48" height="24.20" fill="#faf1f1"/><rect x="298.88" y="644.10" width="8.48" height="24.20" fill="#eeedfe"/><rect x="307.06" y="644.10" width="8.48" height="24.20" fill="#eeedfe"/><rect x="315.24" y="644.10" width="8.48" height="24.20" fill="#eeedfe"/><rect x="323.42" y="644.10" width="8.48" height="24.20" fill="#faf1f1"/><rect x="331.60" y="644.10" width="8.48" height="24.20" fill="#dcdbfe"/><rect x="339.78" y="644.10" width="8.48" height="24.20" fill="#faf1f1"/><rect x="347.96" y="644.10" width="8.48" height="24.20" fill="#faf1f1"/><rect x="356.14" y="644.10" width="8.48" height="24.20" fill="#f6d6d6"/><rect x="364.32" y="644.10" width="8.48" height="24.20" fill="#cbc9fd"/><rect x="380.68" y="644.10" width="8.48" height="24.20" fill="#eeedfe"/><rect x="388.86" y="644.10" width="8.48" height="24.20" fill="#faf1f1"/><rect x="405.22" y="644.10" width="8.48" height="24.20" fill="#faf1f1"/><rect x="413.40" y="644.10" width="8.48" height="24.20" fill="#faf1f1"/><rect x="421.58" y="644.10" width="8.48" height="24.20" fill="#f6d6d6"/><rect x="429.76" y="644.10" width="8.48" height="24.20" fill="#cbc9fd"/><rect x="437.94" y="644.10" width="8.48" height="24.20" fill="#eeedfe"/><rect x="446.12" y="644.10" width="8.48" height="24.20" fill="#eeedfe"/><rect x="454.30" y="644.10" width="8.48" height="24.20" fill="#faf1f1"/><rect x="462.48" y="644.10" width="8.48" height="24.20" fill="#bab7fd"/><rect x="470.66" y="644.10" width="8.48" height="24.20" fill="#eeedfe"/><rect x="478.84" y="644.10" width="8.48" height="24.20" fill="#eeedfe"/><rect x="487.02" y="644.10" width="8.48" height="24.20" fill="#dcdbfe"/><rect x="495.20" y="644.10" width="8.48" height="24.20" fill="#efa9a9"/><rect x="4.40" y="668.00" width="8.48" height="24.20" fill="#faf1f1"/><rect x="12.58" y="668.00" width="8.48" height="24.20" fill="#faf1f1"/><rect x="20.76" y="668.00" width="8.48" height="24.20" fill="#faf1f1"/><rect x="28.94" y="668.00" width="8.48" height="24.20" fill="#bab7fd"/><rect x="37.12" y="668.00" width="8.48" height="24.20" fill="#dcdbfe"/><rect x="45.30" y="668.00" width="8.48" height="24.20" fill="#dcdbfe"/><rect x="53.48" y="668.00" width="8.48" height="24.20" fill="#eeedfe"/><rect x="61.66" y="668.00" width="8.48" height="24.20" fill="#faf1f1"/><rect x="69.84" y="668.00" width="8.48" height="24.20" fill="#eeedfe"/><rect x="78.02" y="668.00" width="8.48" height="24.20" fill="#f6d6d6"/><rect x="86.20" y="668.00" width="8.48" height="24.20" fill="#faf1f1"/><rect x="94.38" y="668.00" width="8.48" height="24.20" fill="#f6d6d6"/><rect x="102.56" y="668.00" width="8.48" height="24.20" fill="#de0a0a"/><rect x="110.74" y="668.00" width="8.48" height="24.20" fill="#cbc9fd"/><rect x="127.10" y="668.00" width="8.48" height="24.20" fill="#eb8b8b"/><rect x="135.28" y="668.00" width="8.48" height="24.20" fill="#eeedfe"/><rect x="151.64" y="668.00" width="8.48" height="24.20" fill="#faf1f1"/><rect x="159.82" y="668.00" width="8.48" height="24.20" fill="#faf1f1"/><rect x="168.00" y="668.00" width="8.48" height="24.20" fill="#faf1f1"/><rect x="184.36" y="668.00" width="8.48" height="24.20" fill="#faf1f1"/><rect x="192.54" y="668.00" width="8.48" height="24.20" fill="#faf1f1"/><rect x="200.72" y="668.00" width="8.48" height="24.20" fill="#faf1f1"/><rect x="208.90" y="668.00" width="8.48" height="24.20" fill="#dcdbfe"/><rect x="217.08" y="668.00" width="8.48" height="24.20" fill="#eeedfe"/><rect x="225.26" y="668.00" width="8.48" height="24.20" fill="#eeedfe"/><rect x="233.44" y="668.00" width="8.48" height="24.20" fill="#eeedfe"/><rect x="266.16" y="668.00" width="8.48" height="24.20" fill="#eeedfe"/><rect x="274.34" y="668.00" width="8.48" height="24.20" fill="#eeedfe"/><rect x="282.52" y="668.00" width="8.48" height="24.20" fill="#eeedfe"/><rect x="298.88" y="668.00" width="8.48" height="24.20" fill="#eeedfe"/><rect x="307.06" y="668.00" width="8.48" height="24.20" fill="#eeedfe"/><rect x="315.24" y="668.00" width="8.48" height="24.20" fill="#faf1f1"/><rect x="323.42" y="668.00" width="8.48" height="24.20" fill="#bab7fd"/><rect x="331.60" y="668.00" width="8.48" height="24.20" fill="#eeedfe"/><rect x="339.78" y="668.00" width="8.48" height="24.20" fill="#dcdbfe"/><rect x="356.14" y="668.00" width="8.48" height="24.20" fill="#a8a5fd"/><rect x="364.32" y="668.00" width="8.48" height="24.20" fill="#dcdbfe"/><rect x="372.50" y="668.00" width="8.48" height="24.20" fill="#eeedfe"/><rect x="380.68" y="668.00" width="8.48" height="24.20" fill="#faf1f1"/><rect x="388.86" y="668.00" width="8.48" height="24.20" fill="#eeedfe"/><rect x="397.04" y="668.00" width="8.48" height="24.20" fill="#faf1f1"/><rect x="405.22" y="668.00" width="8.48" height="24.20" fill="#dcdbfe"/><rect x="413.40" y="668.00" width="8.48" height="24.20" fill="#eeedfe"/><rect x="429.76" y="668.00" width="8.48" height="24.20" fill="#eeedfe"/><rect x="437.94" y="668.00" width="8.48" height="24.20" fill="#eeedfe"/><rect x="446.12" y="668.00" width="8.48" height="24.20" fill="#eeedfe"/><rect x="462.48" y="668.00" width="8.48" height="24.20" fill="#dcdbfe"/><rect x="470.66" y="668.00" width="8.48" height="24.20" fill="#dcdbfe"/><rect x="478.84" y="668.00" width="8.48" height="24.20" fill="#eeedfe"/><rect x="487.02" y="668.00" width="8.48" height="24.20" fill="#eeedfe"/><rect x="495.20" y="668.00" width="8.48" height="24.20" fill="#eeedfe"/><rect x="4.40" y="691.90" width="8.48" height="24.20" fill="#9793fc"/><rect x="12.58" y="691.90" width="8.48" height="24.20" fill="#eeedfe"/><rect x="20.76" y="691.90" width="8.48" height="24.20" fill="#bab7fd"/><rect x="28.94" y="691.90" width="8.48" height="24.20" fill="#faf1f1"/><rect x="37.12" y="691.90" width="8.48" height="24.20" fill="#faf1f1"/><rect x="45.30" y="691.90" width="8.48" height="24.20" fill="#faf1f1"/><rect x="53.48" y="691.90" width="8.48" height="24.20" fill="#eeedfe"/><rect x="61.66" y="691.90" width="8.48" height="24.20" fill="#eeedfe"/><rect x="69.84" y="691.90" width="8.48" height="24.20" fill="#faf1f1"/><rect x="78.02" y="691.90" width="8.48" height="24.20" fill="#f2bcbc"/><rect x="86.20" y="691.90" width="8.48" height="24.20" fill="#faf1f1"/><rect x="94.38" y="691.90" width="8.48" height="24.20" fill="#f2bcbc"/><rect x="102.56" y="691.90" width="8.48" height="24.20" fill="#eeedfe"/><rect x="110.74" y="691.90" width="8.48" height="24.20" fill="#eeedfe"/><rect x="118.92" y="691.90" width="8.48" height="24.20" fill="#faf1f1"/><rect x="127.10" y="691.90" width="8.48" height="24.20" fill="#efa9a9"/><rect x="135.28" y="691.90" width="8.48" height="24.20" fill="#cbc9fd"/><rect x="143.46" y="691.90" width="8.48" height="24.20" fill="#f2bcbc"/><rect x="159.82" y="691.90" width="8.48" height="24.20" fill="#eeedfe"/><rect x="176.18" y="691.90" width="8.48" height="24.20" fill="#9793fc"/><rect x="184.36" y="691.90" width="8.48" height="24.20" fill="#eeedfe"/><rect x="192.54" y="691.90" width="8.48" height="24.20" fill="#ed9999"/><rect x="200.72" y="691.90" width="8.48" height="24.20" fill="#f6d6d6"/><rect x="208.90" y="691.90" width="8.48" height="24.20" fill="#faf1f1"/><rect x="225.26" y="691.90" width="8.48" height="24.20" fill="#eb8b8b"/><rect x="241.62" y="691.90" width="8.48" height="24.20" fill="#dcdbfe"/><rect x="249.80" y="691.90" width="8.48" height="24.20" fill="#eeedfe"/><rect x="257.98" y="691.90" width="8.48" height="24.20" fill="#faf1f1"/><rect x="266.16" y="691.90" width="8.48" height="24.20" fill="#cbc9fd"/><rect x="274.34" y="691.90" width="8.48" height="24.20" fill="#eeedfe"/><rect x="282.52" y="691.90" width="8.48" height="24.20" fill="#f6d6d6"/><rect x="290.70" y="691.90" width="8.48" height="24.20" fill="#faf1f1"/><rect x="298.88" y="691.90" width="8.48" height="24.20" fill="#faf1f1"/><rect x="307.06" y="691.90" width="8.48" height="24.20" fill="#eeedfe"/><rect x="315.24" y="691.90" width="8.48" height="24.20" fill="#8681fc"/><rect x="323.42" y="691.90" width="8.48" height="24.20" fill="#eeedfe"/><rect x="331.60" y="691.90" width="8.48" height="24.20" fill="#635cfb"/><rect x="339.78" y="691.90" width="8.48" height="24.20" fill="#faf1f1"/><rect x="347.96" y="691.90" width="8.48" height="24.20" fill="#faf1f1"/><rect x="356.14" y="691.90" width="8.48" height="24.20" fill="#eeedfe"/><rect x="364.32" y="691.90" width="8.48" height="24.20" fill="#cbc9fd"/><rect x="372.50" y="691.90" width="8.48" height="24.20" fill="#f6d6d6"/><rect x="380.68" y="691.90" width="8.48" height="24.20" fill="#dcdbfe"/><rect x="388.86" y="691.90" width="8.48" height="24.20" fill="#f6d6d6"/><rect x="397.04" y="691.90" width="8.48" height="24.20" fill="#bab7fd"/><rect x="405.22" y="691.90" width="8.48" height="24.20" fill="#faf1f1"/><rect x="413.40" y="691.90" width="8.48" height="24.20" fill="#faf1f1"/><rect x="421.58" y="691.90" width="8.48" height="24.20" fill="#faf1f1"/><rect x="429.76" y="691.90" width="8.48" height="24.20" fill="#cbc9fd"/><rect x="446.12" y="691.90" width="8.48" height="24.20" fill="#dcdbfe"/><rect x="454.30" y="691.90" width="8.48" height="24.20" fill="#f6d6d6"/><rect x="462.48" y="691.90" width="8.48" height="24.20" fill="#faf1f1"/><rect x="487.02" y="691.90" width="8.48" height="24.20" fill="#faf1f1"/><rect x="495.20" y="691.90" width="8.48" height="24.20" fill="#f6d6d6"/><rect x="4.40" y="715.80" width="8.48" height="24.20" fill="#eeedfe"/><rect x="12.58" y="715.80" width="8.48" height="24.20" fill="#eeedfe"/><rect x="20.76" y="715.80" width="8.48" height="24.20" fill="#eeedfe"/><rect x="28.94" y="715.80" width="8.48" height="24.20" fill="#e86c6c"/><rect x="37.12" y="715.80" width="8.48" height="24.20" fill="#eeedfe"/><rect x="45.30" y="715.80" width="8.48" height="24.20" fill="#eeedfe"/><rect x="53.48" y="715.80" width="8.48" height="24.20" fill="#eeedfe"/><rect x="61.66" y="715.80" width="8.48" height="24.20" fill="#eeedfe"/><rect x="69.84" y="715.80" width="8.48" height="24.20" fill="#de0a0a"/><rect x="78.02" y="715.80" width="8.48" height="24.20" fill="#eeedfe"/><rect x="86.20" y="715.80" width="8.48" height="24.20" fill="#eeedfe"/><rect x="94.38" y="715.80" width="8.48" height="24.20" fill="#eeedfe"/><rect x="102.56" y="715.80" width="8.48" height="24.20" fill="#eeedfe"/><rect x="110.74" y="715.80" width="8.48" height="24.20" fill="#eeedfe"/><rect x="118.92" y="715.80" width="8.48" height="24.20" fill="#eeedfe"/><rect x="127.10" y="715.80" width="8.48" height="24.20" fill="#eeedfe"/><rect x="135.28" y="715.80" width="8.48" height="24.20" fill="#eeedfe"/><rect x="143.46" y="715.80" width="8.48" height="24.20" fill="#eeedfe"/><rect x="151.64" y="715.80" width="8.48" height="24.20" fill="#eeedfe"/><rect x="159.82" y="715.80" width="8.48" height="24.20" fill="#eeedfe"/><rect x="168.00" y="715.80" width="8.48" height="24.20" fill="#eeedfe"/><rect x="176.18" y="715.80" width="8.48" height="24.20" fill="#eeedfe"/><rect x="184.36" y="715.80" width="8.48" height="24.20" fill="#eeedfe"/><rect x="192.54" y="715.80" width="8.48" height="24.20" fill="#eeedfe"/><rect x="200.72" y="715.80" width="8.48" height="24.20" fill="#eeedfe"/><rect x="208.90" y="715.80" width="8.48" height="24.20" fill="#eeedfe"/><rect x="217.08" y="715.80" width="8.48" height="24.20" fill="#eeedfe"/><rect x="225.26" y="715.80" width="8.48" height="24.20" fill="#eeedfe"/><rect x="233.44" y="715.80" width="8.48" height="24.20" fill="#eeedfe"/><rect x="241.62" y="715.80" width="8.48" height="24.20" fill="#eeedfe"/><rect x="249.80" y="715.80" width="8.48" height="24.20" fill="#f2bcbc"/><rect x="257.98" y="715.80" width="8.48" height="24.20" fill="#eeedfe"/><rect x="266.16" y="715.80" width="8.48" height="24.20" fill="#eeedfe"/><rect x="274.34" y="715.80" width="8.48" height="24.20" fill="#eeedfe"/><rect x="282.52" y="715.80" width="8.48" height="24.20" fill="#eeedfe"/><rect x="290.70" y="715.80" width="8.48" height="24.20" fill="#eeedfe"/><rect x="298.88" y="715.80" width="8.48" height="24.20" fill="#eeedfe"/><rect x="307.06" y="715.80" width="8.48" height="24.20" fill="#eeedfe"/><rect x="315.24" y="715.80" width="8.48" height="24.20" fill="#eeedfe"/><rect x="323.42" y="715.80" width="8.48" height="24.20" fill="#eeedfe"/><rect x="331.60" y="715.80" width="8.48" height="24.20" fill="#eeedfe"/><rect x="339.78" y="715.80" width="8.48" height="24.20" fill="#eeedfe"/><rect x="356.14" y="715.80" width="8.48" height="24.20" fill="#eeedfe"/><rect x="364.32" y="715.80" width="8.48" height="24.20" fill="#eeedfe"/><rect x="372.50" y="715.80" width="8.48" height="24.20" fill="#eeedfe"/><rect x="380.68" y="715.80" width="8.48" height="24.20" fill="#eeedfe"/><rect x="388.86" y="715.80" width="8.48" height="24.20" fill="#ed9999"/><rect x="397.04" y="715.80" width="8.48" height="24.20" fill="#eeedfe"/><rect x="405.22" y="715.80" width="8.48" height="24.20" fill="#eeedfe"/><rect x="413.40" y="715.80" width="8.48" height="24.20" fill="#eeedfe"/><rect x="421.58" y="715.80" width="8.48" height="24.20" fill="#faf1f1"/><rect x="429.76" y="715.80" width="8.48" height="24.20" fill="#eeedfe"/><rect x="437.94" y="715.80" width="8.48" height="24.20" fill="#eeedfe"/><rect x="446.12" y="715.80" width="8.48" height="24.20" fill="#eeedfe"/><rect x="454.30" y="715.80" width="8.48" height="24.20" fill="#eeedfe"/><rect x="462.48" y="715.80" width="8.48" height="24.20" fill="#eeedfe"/><rect x="470.66" y="715.80" width="8.48" height="24.20" fill="#eeedfe"/><rect x="478.84" y="715.80" width="8.48" height="24.20" fill="#eeedfe"/><rect x="487.02" y="715.80" width="8.48" height="24.20" fill="#eeedfe"/><rect x="495.20" y="715.80" width="8.48" height="24.20" fill="#eeedfe"/><rect x="4.40" y="739.70" width="8.48" height="24.20" fill="#dcdbfe"/><rect x="12.58" y="739.70" width="8.48" height="24.20" fill="#eeedfe"/><rect x="20.76" y="739.70" width="8.48" height="24.20" fill="#dcdbfe"/><rect x="28.94" y="739.70" width="8.48" height="24.20" fill="#faf1f1"/><rect x="45.30" y="739.70" width="8.48" height="24.20" fill="#eeedfe"/><rect x="61.66" y="739.70" width="8.48" height="24.20" fill="#cbc9fd"/><rect x="69.84" y="739.70" width="8.48" height="24.20" fill="#bab7fd"/><rect x="78.02" y="739.70" width="8.48" height="24.20" fill="#cbc9fd"/><rect x="86.20" y="739.70" width="8.48" height="24.20" fill="#faf1f1"/><rect x="94.38" y="739.70" width="8.48" height="24.20" fill="#dcdbfe"/><rect x="102.56" y="739.70" width="8.48" height="24.20" fill="#bab7fd"/><rect x="118.92" y="739.70" width="8.48" height="24.20" fill="#f6d6d6"/><rect x="127.10" y="739.70" width="8.48" height="24.20" fill="#f2bcbc"/><rect x="143.46" y="739.70" width="8.48" height="24.20" fill="#f6d6d6"/><rect x="151.64" y="739.70" width="8.48" height="24.20" fill="#faf1f1"/><rect x="159.82" y="739.70" width="8.48" height="24.20" fill="#faf1f1"/><rect x="168.00" y="739.70" width="8.48" height="24.20" fill="#f6d6d6"/><rect x="176.18" y="739.70" width="8.48" height="24.20" fill="#faf1f1"/><rect x="192.54" y="739.70" width="8.48" height="24.20" fill="#e12525"/><rect x="200.72" y="739.70" width="8.48" height="24.20" fill="#faf1f1"/><rect x="208.90" y="739.70" width="8.48" height="24.20" fill="#faf1f1"/><rect x="225.26" y="739.70" width="8.48" height="24.20" fill="#ed9999"/><rect x="233.44" y="739.70" width="8.48" height="24.20" fill="#dcdbfe"/><rect x="249.80" y="739.70" width="8.48" height="24.20" fill="#faf1f1"/><rect x="266.16" y="739.70" width="8.48" height="24.20" fill="#9793fc"/><rect x="274.34" y="739.70" width="8.48" height="24.20" fill="#dcdbfe"/><rect x="282.52" y="739.70" width="8.48" height="24.20" fill="#f6d6d6"/><rect x="290.70" y="739.70" width="8.48" height="24.20" fill="#faf1f1"/><rect x="298.88" y="739.70" width="8.48" height="24.20" fill="#eeedfe"/><rect x="315.24" y="739.70" width="8.48" height="24.20" fill="#faf1f1"/><rect x="323.42" y="739.70" width="8.48" height="24.20" fill="#dcdbfe"/><rect x="339.78" y="739.70" width="8.48" height="24.20" fill="#faf1f1"/><rect x="356.14" y="739.70" width="8.48" height="24.20" fill="#eeedfe"/><rect x="364.32" y="739.70" width="8.48" height="24.20" fill="#dcdbfe"/><rect x="372.50" y="739.70" width="8.48" height="24.20" fill="#dcdbfe"/><rect x="380.68" y="739.70" width="8.48" height="24.20" fill="#a8a5fd"/><rect x="388.86" y="739.70" width="8.48" height="24.20" fill="#eeedfe"/><rect x="397.04" y="739.70" width="8.48" height="24.20" fill="#dcdbfe"/><rect x="405.22" y="739.70" width="8.48" height="24.20" fill="#faf1f1"/><rect x="413.40" y="739.70" width="8.48" height="24.20" fill="#faf1f1"/><rect x="421.58" y="739.70" width="8.48" height="24.20" fill="#faf1f1"/><rect x="429.76" y="739.70" width="8.48" height="24.20" fill="#cbc9fd"/><rect x="437.94" y="739.70" width="8.48" height="24.20" fill="#bab7fd"/><rect x="454.30" y="739.70" width="8.48" height="24.20" fill="#faf1f1"/><rect x="462.48" y="739.70" width="8.48" height="24.20" fill="#faf1f1"/><rect x="478.84" y="739.70" width="8.48" height="24.20" fill="#dcdbfe"/><rect x="487.02" y="739.70" width="8.48" height="24.20" fill="#faf1f1"/><rect x="495.20" y="739.70" width="8.48" height="24.20" fill="#f6d6d6"/>
<rect x="3.8" y="16.35" width="57.95" height="750.75" fill="none" stroke="#151515" stroke-width="2" shape-rendering="auto"/>
<rect x="736.2" y="81.2" width="19.8" height="287.6" fill="url(#cb)"/>
<rect x="667.4" y="2.7" width="27.9" height="27.2" fill="#bdbd2c"/>
<rect x="667.4" y="29.9" width="27.9" height="27.6" fill="#72c7fc"/>
</svg>
<div class="cl">clone</div>
<div class="rl" style="top:42.1px">HLA-DR</div><div class="rl" style="top:66.1px">CD366-Tim-3</div><div class="rl" style="top:90.0px">CD27</div><div class="rl" style="top:113.8px">CD279-PD-1</div><div class="rl" style="top:137.7px">CD45RA</div><div class="rl" style="top:161.6px">CD45RO</div><div class="rl" style="top:185.5px">CD103-Integrin-E</div><div class="rl" style="top:209.4px">CD28</div><div class="rl" style="top:233.3px">CD127-IL-7R-</div><div class="rl" style="top:257.2px">CD194-CCR4</div><div class="rl" style="top:281.2px">CD4</div><div class="rl" style="top:305.1px">CD3</div><div class="rl" style="top:328.9px">CD8</div><div class="rl" style="top:352.9px">CD16</div><div class="rl" style="top:376.8px">CD25</div><div class="rl" style="top:400.7px">TIGIT-VSTM3</div><div class="rl" style="top:424.6px">CD69</div><div class="rl" style="top:448.4px">CD197-CCR7</div><div class="rl" style="top:472.4px">CD161</div><div class="rl" style="top:496.2px">CD152-CTLA-4</div><div class="rl" style="top:520.2px">CD223-LAG-3</div><div class="rl" style="top:544.1px">CD95-Fas</div><div class="rl" style="top:568.0px">CD134-OX40</div><div class="rl" style="top:591.9px">CD278-ICOS</div><div class="rl" style="top:615.8px">CD39</div><div class="rl" style="top:639.7px">CD137-4-1BB</div><div class="rl" style="top:663.6px">CD184-CXCR4</div><div class="rl" style="top:687.5px">CD226-DNAM-1</div><div class="rl" style="top:711.4px">CD49b</div><div class="rl" style="top:735.2px">CD45</div>
<div class="lg" style="top:4.7px">clones of interest</div>
<div class="lg" style="top:32.2px">other abundant clones</div>
<div class="tk" style="top:74.6px">6</div><div class="tk" style="top:121.0px">4</div><div class="tk" style="top:167.4px">2</div><div class="tk" style="top:213.8px">0</div><div class="tk" style="top:260.2px">-2</div><div class="tk" style="top:306.6px">-4</div><div class="tk" style="top:353.0px">-6</div>
</body></html>
